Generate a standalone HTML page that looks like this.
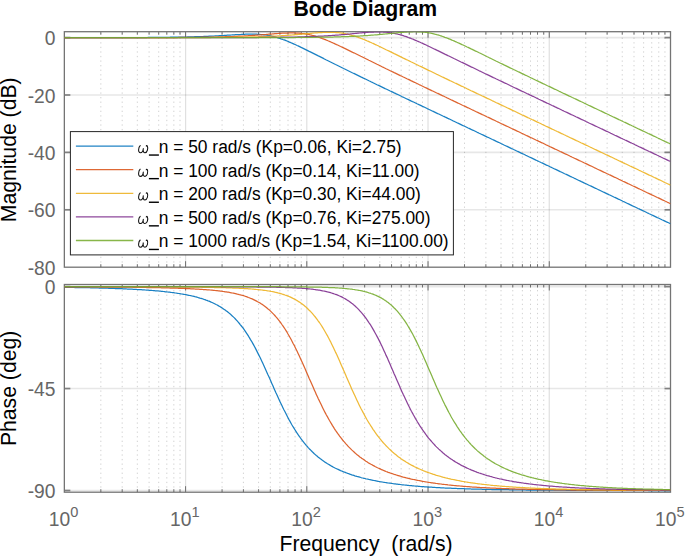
<!DOCTYPE html>
<html><head><meta charset="utf-8"><title>Bode Diagram</title>
<style>
html,body{margin:0;padding:0;background:#fff;}
body{width:685px;height:556px;position:relative;overflow:hidden;font-family:"Liberation Sans",sans-serif;}
svg text{font-family:"Liberation Sans",sans-serif;}
</style></head><body>
<svg width="685" height="556" viewBox="0 0 685 556" style="position:absolute;left:0;top:0">
<rect x="0" y="0" width="685" height="556" fill="#ffffff"/>
<line x1="100.84" y1="267.2" x2="100.84" y2="31.7" stroke="rgba(38,38,38,0.21)" stroke-width="1" stroke-dasharray="1.3 3.265"/>
<line x1="122.19" y1="267.2" x2="122.19" y2="31.7" stroke="rgba(38,38,38,0.21)" stroke-width="1" stroke-dasharray="1.3 3.265"/>
<line x1="137.34" y1="267.2" x2="137.34" y2="31.7" stroke="rgba(38,38,38,0.21)" stroke-width="1" stroke-dasharray="1.3 3.265"/>
<line x1="149.09" y1="267.2" x2="149.09" y2="31.7" stroke="rgba(38,38,38,0.21)" stroke-width="1" stroke-dasharray="1.3 3.265"/>
<line x1="158.69" y1="267.2" x2="158.69" y2="31.7" stroke="rgba(38,38,38,0.21)" stroke-width="1" stroke-dasharray="1.3 3.265"/>
<line x1="166.80" y1="267.2" x2="166.80" y2="31.7" stroke="rgba(38,38,38,0.21)" stroke-width="1" stroke-dasharray="1.3 3.265"/>
<line x1="173.83" y1="267.2" x2="173.83" y2="31.7" stroke="rgba(38,38,38,0.21)" stroke-width="1" stroke-dasharray="1.3 3.265"/>
<line x1="180.03" y1="267.2" x2="180.03" y2="31.7" stroke="rgba(38,38,38,0.21)" stroke-width="1" stroke-dasharray="1.3 3.265"/>
<line x1="222.07" y1="267.2" x2="222.07" y2="31.7" stroke="rgba(38,38,38,0.21)" stroke-width="1" stroke-dasharray="1.3 3.265"/>
<line x1="243.42" y1="267.2" x2="243.42" y2="31.7" stroke="rgba(38,38,38,0.21)" stroke-width="1" stroke-dasharray="1.3 3.265"/>
<line x1="258.57" y1="267.2" x2="258.57" y2="31.7" stroke="rgba(38,38,38,0.21)" stroke-width="1" stroke-dasharray="1.3 3.265"/>
<line x1="270.32" y1="267.2" x2="270.32" y2="31.7" stroke="rgba(38,38,38,0.21)" stroke-width="1" stroke-dasharray="1.3 3.265"/>
<line x1="279.92" y1="267.2" x2="279.92" y2="31.7" stroke="rgba(38,38,38,0.21)" stroke-width="1" stroke-dasharray="1.3 3.265"/>
<line x1="288.03" y1="267.2" x2="288.03" y2="31.7" stroke="rgba(38,38,38,0.21)" stroke-width="1" stroke-dasharray="1.3 3.265"/>
<line x1="295.06" y1="267.2" x2="295.06" y2="31.7" stroke="rgba(38,38,38,0.21)" stroke-width="1" stroke-dasharray="1.3 3.265"/>
<line x1="301.26" y1="267.2" x2="301.26" y2="31.7" stroke="rgba(38,38,38,0.21)" stroke-width="1" stroke-dasharray="1.3 3.265"/>
<line x1="343.30" y1="267.2" x2="343.30" y2="31.7" stroke="rgba(38,38,38,0.21)" stroke-width="1" stroke-dasharray="1.3 3.265"/>
<line x1="364.65" y1="267.2" x2="364.65" y2="31.7" stroke="rgba(38,38,38,0.21)" stroke-width="1" stroke-dasharray="1.3 3.265"/>
<line x1="379.80" y1="267.2" x2="379.80" y2="31.7" stroke="rgba(38,38,38,0.21)" stroke-width="1" stroke-dasharray="1.3 3.265"/>
<line x1="391.55" y1="267.2" x2="391.55" y2="31.7" stroke="rgba(38,38,38,0.21)" stroke-width="1" stroke-dasharray="1.3 3.265"/>
<line x1="401.15" y1="267.2" x2="401.15" y2="31.7" stroke="rgba(38,38,38,0.21)" stroke-width="1" stroke-dasharray="1.3 3.265"/>
<line x1="409.26" y1="267.2" x2="409.26" y2="31.7" stroke="rgba(38,38,38,0.21)" stroke-width="1" stroke-dasharray="1.3 3.265"/>
<line x1="416.29" y1="267.2" x2="416.29" y2="31.7" stroke="rgba(38,38,38,0.21)" stroke-width="1" stroke-dasharray="1.3 3.265"/>
<line x1="422.49" y1="267.2" x2="422.49" y2="31.7" stroke="rgba(38,38,38,0.21)" stroke-width="1" stroke-dasharray="1.3 3.265"/>
<line x1="464.53" y1="267.2" x2="464.53" y2="31.7" stroke="rgba(38,38,38,0.21)" stroke-width="1" stroke-dasharray="1.3 3.265"/>
<line x1="485.88" y1="267.2" x2="485.88" y2="31.7" stroke="rgba(38,38,38,0.21)" stroke-width="1" stroke-dasharray="1.3 3.265"/>
<line x1="501.03" y1="267.2" x2="501.03" y2="31.7" stroke="rgba(38,38,38,0.21)" stroke-width="1" stroke-dasharray="1.3 3.265"/>
<line x1="512.78" y1="267.2" x2="512.78" y2="31.7" stroke="rgba(38,38,38,0.21)" stroke-width="1" stroke-dasharray="1.3 3.265"/>
<line x1="522.38" y1="267.2" x2="522.38" y2="31.7" stroke="rgba(38,38,38,0.21)" stroke-width="1" stroke-dasharray="1.3 3.265"/>
<line x1="530.49" y1="267.2" x2="530.49" y2="31.7" stroke="rgba(38,38,38,0.21)" stroke-width="1" stroke-dasharray="1.3 3.265"/>
<line x1="537.52" y1="267.2" x2="537.52" y2="31.7" stroke="rgba(38,38,38,0.21)" stroke-width="1" stroke-dasharray="1.3 3.265"/>
<line x1="543.72" y1="267.2" x2="543.72" y2="31.7" stroke="rgba(38,38,38,0.21)" stroke-width="1" stroke-dasharray="1.3 3.265"/>
<line x1="585.76" y1="267.2" x2="585.76" y2="31.7" stroke="rgba(38,38,38,0.21)" stroke-width="1" stroke-dasharray="1.3 3.265"/>
<line x1="607.11" y1="267.2" x2="607.11" y2="31.7" stroke="rgba(38,38,38,0.21)" stroke-width="1" stroke-dasharray="1.3 3.265"/>
<line x1="622.26" y1="267.2" x2="622.26" y2="31.7" stroke="rgba(38,38,38,0.21)" stroke-width="1" stroke-dasharray="1.3 3.265"/>
<line x1="634.01" y1="267.2" x2="634.01" y2="31.7" stroke="rgba(38,38,38,0.21)" stroke-width="1" stroke-dasharray="1.3 3.265"/>
<line x1="643.61" y1="267.2" x2="643.61" y2="31.7" stroke="rgba(38,38,38,0.21)" stroke-width="1" stroke-dasharray="1.3 3.265"/>
<line x1="651.72" y1="267.2" x2="651.72" y2="31.7" stroke="rgba(38,38,38,0.21)" stroke-width="1" stroke-dasharray="1.3 3.265"/>
<line x1="658.75" y1="267.2" x2="658.75" y2="31.7" stroke="rgba(38,38,38,0.21)" stroke-width="1" stroke-dasharray="1.3 3.265"/>
<line x1="664.95" y1="267.2" x2="664.95" y2="31.7" stroke="rgba(38,38,38,0.21)" stroke-width="1" stroke-dasharray="1.3 3.265"/>
<line x1="185.58" y1="31.7" x2="185.58" y2="267.2" stroke="rgba(38,38,38,0.14)" stroke-width="1.2"/>
<line x1="306.81" y1="31.7" x2="306.81" y2="267.2" stroke="rgba(38,38,38,0.14)" stroke-width="1.2"/>
<line x1="428.04" y1="31.7" x2="428.04" y2="267.2" stroke="rgba(38,38,38,0.14)" stroke-width="1.2"/>
<line x1="549.27" y1="31.7" x2="549.27" y2="267.2" stroke="rgba(38,38,38,0.14)" stroke-width="1.2"/>
<line x1="64.35" y1="37.60" x2="670.5" y2="37.60" stroke="rgba(38,38,38,0.11)" stroke-width="1.6"/>
<line x1="64.35" y1="95.00" x2="670.5" y2="95.00" stroke="rgba(38,38,38,0.11)" stroke-width="1.6"/>
<line x1="64.35" y1="152.40" x2="670.5" y2="152.40" stroke="rgba(38,38,38,0.11)" stroke-width="1.6"/>
<line x1="64.35" y1="209.80" x2="670.5" y2="209.80" stroke="rgba(38,38,38,0.11)" stroke-width="1.6"/>
<line x1="100.84" y1="492.2" x2="100.84" y2="284.5" stroke="rgba(38,38,38,0.21)" stroke-width="1" stroke-dasharray="1.3 3.265"/>
<line x1="122.19" y1="492.2" x2="122.19" y2="284.5" stroke="rgba(38,38,38,0.21)" stroke-width="1" stroke-dasharray="1.3 3.265"/>
<line x1="137.34" y1="492.2" x2="137.34" y2="284.5" stroke="rgba(38,38,38,0.21)" stroke-width="1" stroke-dasharray="1.3 3.265"/>
<line x1="149.09" y1="492.2" x2="149.09" y2="284.5" stroke="rgba(38,38,38,0.21)" stroke-width="1" stroke-dasharray="1.3 3.265"/>
<line x1="158.69" y1="492.2" x2="158.69" y2="284.5" stroke="rgba(38,38,38,0.21)" stroke-width="1" stroke-dasharray="1.3 3.265"/>
<line x1="166.80" y1="492.2" x2="166.80" y2="284.5" stroke="rgba(38,38,38,0.21)" stroke-width="1" stroke-dasharray="1.3 3.265"/>
<line x1="173.83" y1="492.2" x2="173.83" y2="284.5" stroke="rgba(38,38,38,0.21)" stroke-width="1" stroke-dasharray="1.3 3.265"/>
<line x1="180.03" y1="492.2" x2="180.03" y2="284.5" stroke="rgba(38,38,38,0.21)" stroke-width="1" stroke-dasharray="1.3 3.265"/>
<line x1="222.07" y1="492.2" x2="222.07" y2="284.5" stroke="rgba(38,38,38,0.21)" stroke-width="1" stroke-dasharray="1.3 3.265"/>
<line x1="243.42" y1="492.2" x2="243.42" y2="284.5" stroke="rgba(38,38,38,0.21)" stroke-width="1" stroke-dasharray="1.3 3.265"/>
<line x1="258.57" y1="492.2" x2="258.57" y2="284.5" stroke="rgba(38,38,38,0.21)" stroke-width="1" stroke-dasharray="1.3 3.265"/>
<line x1="270.32" y1="492.2" x2="270.32" y2="284.5" stroke="rgba(38,38,38,0.21)" stroke-width="1" stroke-dasharray="1.3 3.265"/>
<line x1="279.92" y1="492.2" x2="279.92" y2="284.5" stroke="rgba(38,38,38,0.21)" stroke-width="1" stroke-dasharray="1.3 3.265"/>
<line x1="288.03" y1="492.2" x2="288.03" y2="284.5" stroke="rgba(38,38,38,0.21)" stroke-width="1" stroke-dasharray="1.3 3.265"/>
<line x1="295.06" y1="492.2" x2="295.06" y2="284.5" stroke="rgba(38,38,38,0.21)" stroke-width="1" stroke-dasharray="1.3 3.265"/>
<line x1="301.26" y1="492.2" x2="301.26" y2="284.5" stroke="rgba(38,38,38,0.21)" stroke-width="1" stroke-dasharray="1.3 3.265"/>
<line x1="343.30" y1="492.2" x2="343.30" y2="284.5" stroke="rgba(38,38,38,0.21)" stroke-width="1" stroke-dasharray="1.3 3.265"/>
<line x1="364.65" y1="492.2" x2="364.65" y2="284.5" stroke="rgba(38,38,38,0.21)" stroke-width="1" stroke-dasharray="1.3 3.265"/>
<line x1="379.80" y1="492.2" x2="379.80" y2="284.5" stroke="rgba(38,38,38,0.21)" stroke-width="1" stroke-dasharray="1.3 3.265"/>
<line x1="391.55" y1="492.2" x2="391.55" y2="284.5" stroke="rgba(38,38,38,0.21)" stroke-width="1" stroke-dasharray="1.3 3.265"/>
<line x1="401.15" y1="492.2" x2="401.15" y2="284.5" stroke="rgba(38,38,38,0.21)" stroke-width="1" stroke-dasharray="1.3 3.265"/>
<line x1="409.26" y1="492.2" x2="409.26" y2="284.5" stroke="rgba(38,38,38,0.21)" stroke-width="1" stroke-dasharray="1.3 3.265"/>
<line x1="416.29" y1="492.2" x2="416.29" y2="284.5" stroke="rgba(38,38,38,0.21)" stroke-width="1" stroke-dasharray="1.3 3.265"/>
<line x1="422.49" y1="492.2" x2="422.49" y2="284.5" stroke="rgba(38,38,38,0.21)" stroke-width="1" stroke-dasharray="1.3 3.265"/>
<line x1="464.53" y1="492.2" x2="464.53" y2="284.5" stroke="rgba(38,38,38,0.21)" stroke-width="1" stroke-dasharray="1.3 3.265"/>
<line x1="485.88" y1="492.2" x2="485.88" y2="284.5" stroke="rgba(38,38,38,0.21)" stroke-width="1" stroke-dasharray="1.3 3.265"/>
<line x1="501.03" y1="492.2" x2="501.03" y2="284.5" stroke="rgba(38,38,38,0.21)" stroke-width="1" stroke-dasharray="1.3 3.265"/>
<line x1="512.78" y1="492.2" x2="512.78" y2="284.5" stroke="rgba(38,38,38,0.21)" stroke-width="1" stroke-dasharray="1.3 3.265"/>
<line x1="522.38" y1="492.2" x2="522.38" y2="284.5" stroke="rgba(38,38,38,0.21)" stroke-width="1" stroke-dasharray="1.3 3.265"/>
<line x1="530.49" y1="492.2" x2="530.49" y2="284.5" stroke="rgba(38,38,38,0.21)" stroke-width="1" stroke-dasharray="1.3 3.265"/>
<line x1="537.52" y1="492.2" x2="537.52" y2="284.5" stroke="rgba(38,38,38,0.21)" stroke-width="1" stroke-dasharray="1.3 3.265"/>
<line x1="543.72" y1="492.2" x2="543.72" y2="284.5" stroke="rgba(38,38,38,0.21)" stroke-width="1" stroke-dasharray="1.3 3.265"/>
<line x1="585.76" y1="492.2" x2="585.76" y2="284.5" stroke="rgba(38,38,38,0.21)" stroke-width="1" stroke-dasharray="1.3 3.265"/>
<line x1="607.11" y1="492.2" x2="607.11" y2="284.5" stroke="rgba(38,38,38,0.21)" stroke-width="1" stroke-dasharray="1.3 3.265"/>
<line x1="622.26" y1="492.2" x2="622.26" y2="284.5" stroke="rgba(38,38,38,0.21)" stroke-width="1" stroke-dasharray="1.3 3.265"/>
<line x1="634.01" y1="492.2" x2="634.01" y2="284.5" stroke="rgba(38,38,38,0.21)" stroke-width="1" stroke-dasharray="1.3 3.265"/>
<line x1="643.61" y1="492.2" x2="643.61" y2="284.5" stroke="rgba(38,38,38,0.21)" stroke-width="1" stroke-dasharray="1.3 3.265"/>
<line x1="651.72" y1="492.2" x2="651.72" y2="284.5" stroke="rgba(38,38,38,0.21)" stroke-width="1" stroke-dasharray="1.3 3.265"/>
<line x1="658.75" y1="492.2" x2="658.75" y2="284.5" stroke="rgba(38,38,38,0.21)" stroke-width="1" stroke-dasharray="1.3 3.265"/>
<line x1="664.95" y1="492.2" x2="664.95" y2="284.5" stroke="rgba(38,38,38,0.21)" stroke-width="1" stroke-dasharray="1.3 3.265"/>
<line x1="185.58" y1="284.5" x2="185.58" y2="492.2" stroke="rgba(38,38,38,0.14)" stroke-width="1.2"/>
<line x1="306.81" y1="284.5" x2="306.81" y2="492.2" stroke="rgba(38,38,38,0.14)" stroke-width="1.2"/>
<line x1="428.04" y1="284.5" x2="428.04" y2="492.2" stroke="rgba(38,38,38,0.14)" stroke-width="1.2"/>
<line x1="549.27" y1="284.5" x2="549.27" y2="492.2" stroke="rgba(38,38,38,0.14)" stroke-width="1.2"/>
<line x1="64.35" y1="286.60" x2="670.5" y2="286.60" stroke="rgba(38,38,38,0.11)" stroke-width="1.6"/>
<line x1="64.35" y1="388.55" x2="670.5" y2="388.55" stroke="rgba(38,38,38,0.11)" stroke-width="1.6"/>
<line x1="64.35" y1="490.50" x2="670.5" y2="490.50" stroke="rgba(38,38,38,0.11)" stroke-width="1.6"/>
<defs><clipPath id="c1"><rect x="64.35" y="31.7" width="606.15" height="235.5"/></clipPath><clipPath id="c2"><rect x="64.35" y="284.5" width="606.15" height="207.7"/></clipPath></defs>
<line x1="100.84" y1="31.7" x2="100.84" y2="34.7" stroke="#6e6e6e" stroke-width="1"/>
<line x1="100.84" y1="267.2" x2="100.84" y2="264.2" stroke="#6e6e6e" stroke-width="1"/>
<line x1="122.19" y1="31.7" x2="122.19" y2="34.7" stroke="#6e6e6e" stroke-width="1"/>
<line x1="122.19" y1="267.2" x2="122.19" y2="264.2" stroke="#6e6e6e" stroke-width="1"/>
<line x1="137.34" y1="31.7" x2="137.34" y2="34.7" stroke="#6e6e6e" stroke-width="1"/>
<line x1="137.34" y1="267.2" x2="137.34" y2="264.2" stroke="#6e6e6e" stroke-width="1"/>
<line x1="149.09" y1="31.7" x2="149.09" y2="34.7" stroke="#6e6e6e" stroke-width="1"/>
<line x1="149.09" y1="267.2" x2="149.09" y2="264.2" stroke="#6e6e6e" stroke-width="1"/>
<line x1="158.69" y1="31.7" x2="158.69" y2="34.7" stroke="#6e6e6e" stroke-width="1"/>
<line x1="158.69" y1="267.2" x2="158.69" y2="264.2" stroke="#6e6e6e" stroke-width="1"/>
<line x1="166.80" y1="31.7" x2="166.80" y2="34.7" stroke="#6e6e6e" stroke-width="1"/>
<line x1="166.80" y1="267.2" x2="166.80" y2="264.2" stroke="#6e6e6e" stroke-width="1"/>
<line x1="173.83" y1="31.7" x2="173.83" y2="34.7" stroke="#6e6e6e" stroke-width="1"/>
<line x1="173.83" y1="267.2" x2="173.83" y2="264.2" stroke="#6e6e6e" stroke-width="1"/>
<line x1="180.03" y1="31.7" x2="180.03" y2="34.7" stroke="#6e6e6e" stroke-width="1"/>
<line x1="180.03" y1="267.2" x2="180.03" y2="264.2" stroke="#6e6e6e" stroke-width="1"/>
<line x1="185.58" y1="31.7" x2="185.58" y2="37.7" stroke="#6e6e6e" stroke-width="1"/>
<line x1="185.58" y1="267.2" x2="185.58" y2="261.2" stroke="#6e6e6e" stroke-width="1"/>
<line x1="222.07" y1="31.7" x2="222.07" y2="34.7" stroke="#6e6e6e" stroke-width="1"/>
<line x1="222.07" y1="267.2" x2="222.07" y2="264.2" stroke="#6e6e6e" stroke-width="1"/>
<line x1="243.42" y1="31.7" x2="243.42" y2="34.7" stroke="#6e6e6e" stroke-width="1"/>
<line x1="243.42" y1="267.2" x2="243.42" y2="264.2" stroke="#6e6e6e" stroke-width="1"/>
<line x1="258.57" y1="31.7" x2="258.57" y2="34.7" stroke="#6e6e6e" stroke-width="1"/>
<line x1="258.57" y1="267.2" x2="258.57" y2="264.2" stroke="#6e6e6e" stroke-width="1"/>
<line x1="270.32" y1="31.7" x2="270.32" y2="34.7" stroke="#6e6e6e" stroke-width="1"/>
<line x1="270.32" y1="267.2" x2="270.32" y2="264.2" stroke="#6e6e6e" stroke-width="1"/>
<line x1="279.92" y1="31.7" x2="279.92" y2="34.7" stroke="#6e6e6e" stroke-width="1"/>
<line x1="279.92" y1="267.2" x2="279.92" y2="264.2" stroke="#6e6e6e" stroke-width="1"/>
<line x1="288.03" y1="31.7" x2="288.03" y2="34.7" stroke="#6e6e6e" stroke-width="1"/>
<line x1="288.03" y1="267.2" x2="288.03" y2="264.2" stroke="#6e6e6e" stroke-width="1"/>
<line x1="295.06" y1="31.7" x2="295.06" y2="34.7" stroke="#6e6e6e" stroke-width="1"/>
<line x1="295.06" y1="267.2" x2="295.06" y2="264.2" stroke="#6e6e6e" stroke-width="1"/>
<line x1="301.26" y1="31.7" x2="301.26" y2="34.7" stroke="#6e6e6e" stroke-width="1"/>
<line x1="301.26" y1="267.2" x2="301.26" y2="264.2" stroke="#6e6e6e" stroke-width="1"/>
<line x1="306.81" y1="31.7" x2="306.81" y2="37.7" stroke="#6e6e6e" stroke-width="1"/>
<line x1="306.81" y1="267.2" x2="306.81" y2="261.2" stroke="#6e6e6e" stroke-width="1"/>
<line x1="343.30" y1="31.7" x2="343.30" y2="34.7" stroke="#6e6e6e" stroke-width="1"/>
<line x1="343.30" y1="267.2" x2="343.30" y2="264.2" stroke="#6e6e6e" stroke-width="1"/>
<line x1="364.65" y1="31.7" x2="364.65" y2="34.7" stroke="#6e6e6e" stroke-width="1"/>
<line x1="364.65" y1="267.2" x2="364.65" y2="264.2" stroke="#6e6e6e" stroke-width="1"/>
<line x1="379.80" y1="31.7" x2="379.80" y2="34.7" stroke="#6e6e6e" stroke-width="1"/>
<line x1="379.80" y1="267.2" x2="379.80" y2="264.2" stroke="#6e6e6e" stroke-width="1"/>
<line x1="391.55" y1="31.7" x2="391.55" y2="34.7" stroke="#6e6e6e" stroke-width="1"/>
<line x1="391.55" y1="267.2" x2="391.55" y2="264.2" stroke="#6e6e6e" stroke-width="1"/>
<line x1="401.15" y1="31.7" x2="401.15" y2="34.7" stroke="#6e6e6e" stroke-width="1"/>
<line x1="401.15" y1="267.2" x2="401.15" y2="264.2" stroke="#6e6e6e" stroke-width="1"/>
<line x1="409.26" y1="31.7" x2="409.26" y2="34.7" stroke="#6e6e6e" stroke-width="1"/>
<line x1="409.26" y1="267.2" x2="409.26" y2="264.2" stroke="#6e6e6e" stroke-width="1"/>
<line x1="416.29" y1="31.7" x2="416.29" y2="34.7" stroke="#6e6e6e" stroke-width="1"/>
<line x1="416.29" y1="267.2" x2="416.29" y2="264.2" stroke="#6e6e6e" stroke-width="1"/>
<line x1="422.49" y1="31.7" x2="422.49" y2="34.7" stroke="#6e6e6e" stroke-width="1"/>
<line x1="422.49" y1="267.2" x2="422.49" y2="264.2" stroke="#6e6e6e" stroke-width="1"/>
<line x1="428.04" y1="31.7" x2="428.04" y2="37.7" stroke="#6e6e6e" stroke-width="1"/>
<line x1="428.04" y1="267.2" x2="428.04" y2="261.2" stroke="#6e6e6e" stroke-width="1"/>
<line x1="464.53" y1="31.7" x2="464.53" y2="34.7" stroke="#6e6e6e" stroke-width="1"/>
<line x1="464.53" y1="267.2" x2="464.53" y2="264.2" stroke="#6e6e6e" stroke-width="1"/>
<line x1="485.88" y1="31.7" x2="485.88" y2="34.7" stroke="#6e6e6e" stroke-width="1"/>
<line x1="485.88" y1="267.2" x2="485.88" y2="264.2" stroke="#6e6e6e" stroke-width="1"/>
<line x1="501.03" y1="31.7" x2="501.03" y2="34.7" stroke="#6e6e6e" stroke-width="1"/>
<line x1="501.03" y1="267.2" x2="501.03" y2="264.2" stroke="#6e6e6e" stroke-width="1"/>
<line x1="512.78" y1="31.7" x2="512.78" y2="34.7" stroke="#6e6e6e" stroke-width="1"/>
<line x1="512.78" y1="267.2" x2="512.78" y2="264.2" stroke="#6e6e6e" stroke-width="1"/>
<line x1="522.38" y1="31.7" x2="522.38" y2="34.7" stroke="#6e6e6e" stroke-width="1"/>
<line x1="522.38" y1="267.2" x2="522.38" y2="264.2" stroke="#6e6e6e" stroke-width="1"/>
<line x1="530.49" y1="31.7" x2="530.49" y2="34.7" stroke="#6e6e6e" stroke-width="1"/>
<line x1="530.49" y1="267.2" x2="530.49" y2="264.2" stroke="#6e6e6e" stroke-width="1"/>
<line x1="537.52" y1="31.7" x2="537.52" y2="34.7" stroke="#6e6e6e" stroke-width="1"/>
<line x1="537.52" y1="267.2" x2="537.52" y2="264.2" stroke="#6e6e6e" stroke-width="1"/>
<line x1="543.72" y1="31.7" x2="543.72" y2="34.7" stroke="#6e6e6e" stroke-width="1"/>
<line x1="543.72" y1="267.2" x2="543.72" y2="264.2" stroke="#6e6e6e" stroke-width="1"/>
<line x1="549.27" y1="31.7" x2="549.27" y2="37.7" stroke="#6e6e6e" stroke-width="1"/>
<line x1="549.27" y1="267.2" x2="549.27" y2="261.2" stroke="#6e6e6e" stroke-width="1"/>
<line x1="585.76" y1="31.7" x2="585.76" y2="34.7" stroke="#6e6e6e" stroke-width="1"/>
<line x1="585.76" y1="267.2" x2="585.76" y2="264.2" stroke="#6e6e6e" stroke-width="1"/>
<line x1="607.11" y1="31.7" x2="607.11" y2="34.7" stroke="#6e6e6e" stroke-width="1"/>
<line x1="607.11" y1="267.2" x2="607.11" y2="264.2" stroke="#6e6e6e" stroke-width="1"/>
<line x1="622.26" y1="31.7" x2="622.26" y2="34.7" stroke="#6e6e6e" stroke-width="1"/>
<line x1="622.26" y1="267.2" x2="622.26" y2="264.2" stroke="#6e6e6e" stroke-width="1"/>
<line x1="634.01" y1="31.7" x2="634.01" y2="34.7" stroke="#6e6e6e" stroke-width="1"/>
<line x1="634.01" y1="267.2" x2="634.01" y2="264.2" stroke="#6e6e6e" stroke-width="1"/>
<line x1="643.61" y1="31.7" x2="643.61" y2="34.7" stroke="#6e6e6e" stroke-width="1"/>
<line x1="643.61" y1="267.2" x2="643.61" y2="264.2" stroke="#6e6e6e" stroke-width="1"/>
<line x1="651.72" y1="31.7" x2="651.72" y2="34.7" stroke="#6e6e6e" stroke-width="1"/>
<line x1="651.72" y1="267.2" x2="651.72" y2="264.2" stroke="#6e6e6e" stroke-width="1"/>
<line x1="658.75" y1="31.7" x2="658.75" y2="34.7" stroke="#6e6e6e" stroke-width="1"/>
<line x1="658.75" y1="267.2" x2="658.75" y2="264.2" stroke="#6e6e6e" stroke-width="1"/>
<line x1="664.95" y1="31.7" x2="664.95" y2="34.7" stroke="#6e6e6e" stroke-width="1"/>
<line x1="664.95" y1="267.2" x2="664.95" y2="264.2" stroke="#6e6e6e" stroke-width="1"/>
<line x1="64.35" y1="37.60" x2="70.35" y2="37.60" stroke="#808080" stroke-width="1.7"/>
<line x1="670.5" y1="37.60" x2="664.5" y2="37.60" stroke="#808080" stroke-width="1.7"/>
<line x1="64.35" y1="95.00" x2="70.35" y2="95.00" stroke="#808080" stroke-width="1.7"/>
<line x1="670.5" y1="95.00" x2="664.5" y2="95.00" stroke="#808080" stroke-width="1.7"/>
<line x1="64.35" y1="152.40" x2="70.35" y2="152.40" stroke="#808080" stroke-width="1.7"/>
<line x1="670.5" y1="152.40" x2="664.5" y2="152.40" stroke="#808080" stroke-width="1.7"/>
<line x1="64.35" y1="209.80" x2="70.35" y2="209.80" stroke="#808080" stroke-width="1.7"/>
<line x1="670.5" y1="209.80" x2="664.5" y2="209.80" stroke="#808080" stroke-width="1.7"/>
<rect x="64.35" y="31.7" width="606.15" height="235.5" fill="none" stroke="#747474" stroke-width="1.3"/>
<line x1="100.84" y1="284.5" x2="100.84" y2="287.5" stroke="#6e6e6e" stroke-width="1"/>
<line x1="100.84" y1="492.2" x2="100.84" y2="489.2" stroke="#6e6e6e" stroke-width="1"/>
<line x1="122.19" y1="284.5" x2="122.19" y2="287.5" stroke="#6e6e6e" stroke-width="1"/>
<line x1="122.19" y1="492.2" x2="122.19" y2="489.2" stroke="#6e6e6e" stroke-width="1"/>
<line x1="137.34" y1="284.5" x2="137.34" y2="287.5" stroke="#6e6e6e" stroke-width="1"/>
<line x1="137.34" y1="492.2" x2="137.34" y2="489.2" stroke="#6e6e6e" stroke-width="1"/>
<line x1="149.09" y1="284.5" x2="149.09" y2="287.5" stroke="#6e6e6e" stroke-width="1"/>
<line x1="149.09" y1="492.2" x2="149.09" y2="489.2" stroke="#6e6e6e" stroke-width="1"/>
<line x1="158.69" y1="284.5" x2="158.69" y2="287.5" stroke="#6e6e6e" stroke-width="1"/>
<line x1="158.69" y1="492.2" x2="158.69" y2="489.2" stroke="#6e6e6e" stroke-width="1"/>
<line x1="166.80" y1="284.5" x2="166.80" y2="287.5" stroke="#6e6e6e" stroke-width="1"/>
<line x1="166.80" y1="492.2" x2="166.80" y2="489.2" stroke="#6e6e6e" stroke-width="1"/>
<line x1="173.83" y1="284.5" x2="173.83" y2="287.5" stroke="#6e6e6e" stroke-width="1"/>
<line x1="173.83" y1="492.2" x2="173.83" y2="489.2" stroke="#6e6e6e" stroke-width="1"/>
<line x1="180.03" y1="284.5" x2="180.03" y2="287.5" stroke="#6e6e6e" stroke-width="1"/>
<line x1="180.03" y1="492.2" x2="180.03" y2="489.2" stroke="#6e6e6e" stroke-width="1"/>
<line x1="185.58" y1="284.5" x2="185.58" y2="290.5" stroke="#6e6e6e" stroke-width="1"/>
<line x1="185.58" y1="492.2" x2="185.58" y2="486.2" stroke="#6e6e6e" stroke-width="1"/>
<line x1="222.07" y1="284.5" x2="222.07" y2="287.5" stroke="#6e6e6e" stroke-width="1"/>
<line x1="222.07" y1="492.2" x2="222.07" y2="489.2" stroke="#6e6e6e" stroke-width="1"/>
<line x1="243.42" y1="284.5" x2="243.42" y2="287.5" stroke="#6e6e6e" stroke-width="1"/>
<line x1="243.42" y1="492.2" x2="243.42" y2="489.2" stroke="#6e6e6e" stroke-width="1"/>
<line x1="258.57" y1="284.5" x2="258.57" y2="287.5" stroke="#6e6e6e" stroke-width="1"/>
<line x1="258.57" y1="492.2" x2="258.57" y2="489.2" stroke="#6e6e6e" stroke-width="1"/>
<line x1="270.32" y1="284.5" x2="270.32" y2="287.5" stroke="#6e6e6e" stroke-width="1"/>
<line x1="270.32" y1="492.2" x2="270.32" y2="489.2" stroke="#6e6e6e" stroke-width="1"/>
<line x1="279.92" y1="284.5" x2="279.92" y2="287.5" stroke="#6e6e6e" stroke-width="1"/>
<line x1="279.92" y1="492.2" x2="279.92" y2="489.2" stroke="#6e6e6e" stroke-width="1"/>
<line x1="288.03" y1="284.5" x2="288.03" y2="287.5" stroke="#6e6e6e" stroke-width="1"/>
<line x1="288.03" y1="492.2" x2="288.03" y2="489.2" stroke="#6e6e6e" stroke-width="1"/>
<line x1="295.06" y1="284.5" x2="295.06" y2="287.5" stroke="#6e6e6e" stroke-width="1"/>
<line x1="295.06" y1="492.2" x2="295.06" y2="489.2" stroke="#6e6e6e" stroke-width="1"/>
<line x1="301.26" y1="284.5" x2="301.26" y2="287.5" stroke="#6e6e6e" stroke-width="1"/>
<line x1="301.26" y1="492.2" x2="301.26" y2="489.2" stroke="#6e6e6e" stroke-width="1"/>
<line x1="306.81" y1="284.5" x2="306.81" y2="290.5" stroke="#6e6e6e" stroke-width="1"/>
<line x1="306.81" y1="492.2" x2="306.81" y2="486.2" stroke="#6e6e6e" stroke-width="1"/>
<line x1="343.30" y1="284.5" x2="343.30" y2="287.5" stroke="#6e6e6e" stroke-width="1"/>
<line x1="343.30" y1="492.2" x2="343.30" y2="489.2" stroke="#6e6e6e" stroke-width="1"/>
<line x1="364.65" y1="284.5" x2="364.65" y2="287.5" stroke="#6e6e6e" stroke-width="1"/>
<line x1="364.65" y1="492.2" x2="364.65" y2="489.2" stroke="#6e6e6e" stroke-width="1"/>
<line x1="379.80" y1="284.5" x2="379.80" y2="287.5" stroke="#6e6e6e" stroke-width="1"/>
<line x1="379.80" y1="492.2" x2="379.80" y2="489.2" stroke="#6e6e6e" stroke-width="1"/>
<line x1="391.55" y1="284.5" x2="391.55" y2="287.5" stroke="#6e6e6e" stroke-width="1"/>
<line x1="391.55" y1="492.2" x2="391.55" y2="489.2" stroke="#6e6e6e" stroke-width="1"/>
<line x1="401.15" y1="284.5" x2="401.15" y2="287.5" stroke="#6e6e6e" stroke-width="1"/>
<line x1="401.15" y1="492.2" x2="401.15" y2="489.2" stroke="#6e6e6e" stroke-width="1"/>
<line x1="409.26" y1="284.5" x2="409.26" y2="287.5" stroke="#6e6e6e" stroke-width="1"/>
<line x1="409.26" y1="492.2" x2="409.26" y2="489.2" stroke="#6e6e6e" stroke-width="1"/>
<line x1="416.29" y1="284.5" x2="416.29" y2="287.5" stroke="#6e6e6e" stroke-width="1"/>
<line x1="416.29" y1="492.2" x2="416.29" y2="489.2" stroke="#6e6e6e" stroke-width="1"/>
<line x1="422.49" y1="284.5" x2="422.49" y2="287.5" stroke="#6e6e6e" stroke-width="1"/>
<line x1="422.49" y1="492.2" x2="422.49" y2="489.2" stroke="#6e6e6e" stroke-width="1"/>
<line x1="428.04" y1="284.5" x2="428.04" y2="290.5" stroke="#6e6e6e" stroke-width="1"/>
<line x1="428.04" y1="492.2" x2="428.04" y2="486.2" stroke="#6e6e6e" stroke-width="1"/>
<line x1="464.53" y1="284.5" x2="464.53" y2="287.5" stroke="#6e6e6e" stroke-width="1"/>
<line x1="464.53" y1="492.2" x2="464.53" y2="489.2" stroke="#6e6e6e" stroke-width="1"/>
<line x1="485.88" y1="284.5" x2="485.88" y2="287.5" stroke="#6e6e6e" stroke-width="1"/>
<line x1="485.88" y1="492.2" x2="485.88" y2="489.2" stroke="#6e6e6e" stroke-width="1"/>
<line x1="501.03" y1="284.5" x2="501.03" y2="287.5" stroke="#6e6e6e" stroke-width="1"/>
<line x1="501.03" y1="492.2" x2="501.03" y2="489.2" stroke="#6e6e6e" stroke-width="1"/>
<line x1="512.78" y1="284.5" x2="512.78" y2="287.5" stroke="#6e6e6e" stroke-width="1"/>
<line x1="512.78" y1="492.2" x2="512.78" y2="489.2" stroke="#6e6e6e" stroke-width="1"/>
<line x1="522.38" y1="284.5" x2="522.38" y2="287.5" stroke="#6e6e6e" stroke-width="1"/>
<line x1="522.38" y1="492.2" x2="522.38" y2="489.2" stroke="#6e6e6e" stroke-width="1"/>
<line x1="530.49" y1="284.5" x2="530.49" y2="287.5" stroke="#6e6e6e" stroke-width="1"/>
<line x1="530.49" y1="492.2" x2="530.49" y2="489.2" stroke="#6e6e6e" stroke-width="1"/>
<line x1="537.52" y1="284.5" x2="537.52" y2="287.5" stroke="#6e6e6e" stroke-width="1"/>
<line x1="537.52" y1="492.2" x2="537.52" y2="489.2" stroke="#6e6e6e" stroke-width="1"/>
<line x1="543.72" y1="284.5" x2="543.72" y2="287.5" stroke="#6e6e6e" stroke-width="1"/>
<line x1="543.72" y1="492.2" x2="543.72" y2="489.2" stroke="#6e6e6e" stroke-width="1"/>
<line x1="549.27" y1="284.5" x2="549.27" y2="290.5" stroke="#6e6e6e" stroke-width="1"/>
<line x1="549.27" y1="492.2" x2="549.27" y2="486.2" stroke="#6e6e6e" stroke-width="1"/>
<line x1="585.76" y1="284.5" x2="585.76" y2="287.5" stroke="#6e6e6e" stroke-width="1"/>
<line x1="585.76" y1="492.2" x2="585.76" y2="489.2" stroke="#6e6e6e" stroke-width="1"/>
<line x1="607.11" y1="284.5" x2="607.11" y2="287.5" stroke="#6e6e6e" stroke-width="1"/>
<line x1="607.11" y1="492.2" x2="607.11" y2="489.2" stroke="#6e6e6e" stroke-width="1"/>
<line x1="622.26" y1="284.5" x2="622.26" y2="287.5" stroke="#6e6e6e" stroke-width="1"/>
<line x1="622.26" y1="492.2" x2="622.26" y2="489.2" stroke="#6e6e6e" stroke-width="1"/>
<line x1="634.01" y1="284.5" x2="634.01" y2="287.5" stroke="#6e6e6e" stroke-width="1"/>
<line x1="634.01" y1="492.2" x2="634.01" y2="489.2" stroke="#6e6e6e" stroke-width="1"/>
<line x1="643.61" y1="284.5" x2="643.61" y2="287.5" stroke="#6e6e6e" stroke-width="1"/>
<line x1="643.61" y1="492.2" x2="643.61" y2="489.2" stroke="#6e6e6e" stroke-width="1"/>
<line x1="651.72" y1="284.5" x2="651.72" y2="287.5" stroke="#6e6e6e" stroke-width="1"/>
<line x1="651.72" y1="492.2" x2="651.72" y2="489.2" stroke="#6e6e6e" stroke-width="1"/>
<line x1="658.75" y1="284.5" x2="658.75" y2="287.5" stroke="#6e6e6e" stroke-width="1"/>
<line x1="658.75" y1="492.2" x2="658.75" y2="489.2" stroke="#6e6e6e" stroke-width="1"/>
<line x1="664.95" y1="284.5" x2="664.95" y2="287.5" stroke="#6e6e6e" stroke-width="1"/>
<line x1="664.95" y1="492.2" x2="664.95" y2="489.2" stroke="#6e6e6e" stroke-width="1"/>
<line x1="64.35" y1="286.60" x2="70.35" y2="286.60" stroke="#808080" stroke-width="1.7"/>
<line x1="670.5" y1="286.60" x2="664.5" y2="286.60" stroke="#808080" stroke-width="1.7"/>
<line x1="64.35" y1="388.55" x2="70.35" y2="388.55" stroke="#808080" stroke-width="1.7"/>
<line x1="670.5" y1="388.55" x2="664.5" y2="388.55" stroke="#808080" stroke-width="1.7"/>
<line x1="64.35" y1="490.50" x2="70.35" y2="490.50" stroke="#808080" stroke-width="1.7"/>
<line x1="670.5" y1="490.50" x2="664.5" y2="490.50" stroke="#808080" stroke-width="1.7"/>
<rect x="64.35" y="284.5" width="606.15" height="207.7" fill="none" stroke="#747474" stroke-width="1.3"/>
<polyline clip-path="url(#c1)" fill="none" stroke="#0072BD" stroke-width="1.25" stroke-opacity="0.9" stroke-linejoin="round" points="64.3,37.6 65.4,37.6 66.4,37.6 67.4,37.6 68.4,37.6 69.4,37.6 70.4,37.6 71.4,37.6 72.4,37.6 73.5,37.6 74.5,37.6 75.5,37.6 76.5,37.6 77.5,37.6 78.5,37.6 79.5,37.6 80.5,37.6 81.6,37.6 82.6,37.6 83.6,37.6 84.6,37.6 85.6,37.6 86.6,37.6 87.6,37.6 88.6,37.6 89.6,37.6 90.7,37.6 91.7,37.6 92.7,37.6 93.7,37.6 94.7,37.6 95.7,37.6 96.7,37.6 97.7,37.6 98.8,37.6 99.8,37.6 100.8,37.6 101.8,37.6 102.8,37.6 103.8,37.6 104.8,37.6 105.8,37.6 106.9,37.6 107.9,37.6 108.9,37.6 109.9,37.6 110.9,37.6 111.9,37.6 112.9,37.6 113.9,37.6 114.9,37.6 116.0,37.6 117.0,37.6 118.0,37.6 119.0,37.5 120.0,37.5 121.0,37.5 122.0,37.5 123.0,37.5 124.1,37.5 125.1,37.5 126.1,37.5 127.1,37.5 128.1,37.5 129.1,37.5 130.1,37.5 131.1,37.5 132.1,37.5 133.2,37.5 134.2,37.5 135.2,37.5 136.2,37.5 137.2,37.5 138.2,37.5 139.2,37.5 140.2,37.5 141.3,37.5 142.3,37.5 143.3,37.5 144.3,37.5 145.3,37.5 146.3,37.5 147.3,37.5 148.3,37.4 149.4,37.4 150.4,37.4 151.4,37.4 152.4,37.4 153.4,37.4 154.4,37.4 155.4,37.4 156.4,37.4 157.4,37.4 158.5,37.4 159.5,37.4 160.5,37.4 161.5,37.3 162.5,37.3 163.5,37.3 164.5,37.3 165.5,37.3 166.6,37.3 167.6,37.3 168.6,37.3 169.6,37.3 170.6,37.2 171.6,37.2 172.6,37.2 173.6,37.2 174.7,37.2 175.7,37.2 176.7,37.2 177.7,37.1 178.7,37.1 179.7,37.1 180.7,37.1 181.7,37.1 182.7,37.0 183.8,37.0 184.8,37.0 185.8,37.0 186.8,37.0 187.8,36.9 188.8,36.9 189.8,36.9 190.8,36.9 191.9,36.8 192.9,36.8 193.9,36.8 194.9,36.7 195.9,36.7 196.9,36.7 197.9,36.7 198.9,36.6 199.9,36.6 201.0,36.5 202.0,36.5 203.0,36.5 204.0,36.4 205.0,36.4 206.0,36.4 207.0,36.3 208.0,36.3 209.1,36.2 210.1,36.2 211.1,36.1 212.1,36.1 213.1,36.0 214.1,36.0 215.1,35.9 216.1,35.9 217.2,35.8 218.2,35.8 219.2,35.7 220.2,35.7 221.2,35.6 222.2,35.5 223.2,35.5 224.2,35.4 225.2,35.4 226.3,35.3 227.3,35.2 228.3,35.2 229.3,35.1 230.3,35.1 231.3,35.0 232.3,34.9 233.3,34.9 234.4,34.8 235.4,34.7 236.4,34.7 237.4,34.6 238.4,34.6 239.4,34.5 240.4,34.5 241.4,34.4 242.5,34.4 243.5,34.3 244.5,34.3 245.5,34.2 246.5,34.2 247.5,34.2 248.5,34.2 249.5,34.1 250.5,34.1 251.6,34.1 252.6,34.1 253.6,34.1 254.6,34.2 255.6,34.2 256.6,34.2 257.6,34.3 258.6,34.3 259.7,34.4 260.7,34.5 261.7,34.6 262.7,34.7 263.7,34.8 264.7,34.9 265.7,35.0 266.7,35.2 267.7,35.4 268.8,35.5 269.8,35.7 270.8,35.9 271.8,36.2 272.8,36.4 273.8,36.6 274.8,36.9 275.8,37.2 276.9,37.5 277.9,37.8 278.9,38.1 279.9,38.4 280.9,38.8 281.9,39.1 282.9,39.5 283.9,39.8 285.0,40.2 286.0,40.6 287.0,41.0 288.0,41.4 289.0,41.9 290.0,42.3 291.0,42.7 292.0,43.2 293.0,43.6 294.1,44.1 295.1,44.5 296.1,45.0 297.1,45.5 298.1,45.9 299.1,46.4 300.1,46.9 301.1,47.4 302.2,47.9 303.2,48.4 304.2,48.9 305.2,49.4 306.2,49.9 307.2,50.4 308.2,50.9 309.2,51.4 310.3,51.9 311.3,52.4 312.3,52.9 313.3,53.4 314.3,53.9 315.3,54.4 316.3,54.9 317.3,55.4 318.3,55.9 319.4,56.4 320.4,56.9 321.4,57.4 322.4,57.9 323.4,58.4 324.4,59.0 325.4,59.5 326.4,60.0 327.5,60.5 328.5,61.0 329.5,61.5 330.5,62.0 331.5,62.5 332.5,63.0 333.5,63.5 334.5,64.0 335.5,64.5 336.6,65.0 337.6,65.5 338.6,66.0 339.6,66.5 340.6,67.0 341.6,67.5 342.6,68.0 343.6,68.5 344.7,69.0 345.7,69.5 346.7,70.0 347.7,70.5 348.7,71.0 349.7,71.5 350.7,72.0 351.7,72.5 352.8,73.0 353.8,73.4 354.8,73.9 355.8,74.4 356.8,74.9 357.8,75.4 358.8,75.9 359.8,76.4 360.8,76.9 361.9,77.4 362.9,77.9 363.9,78.3 364.9,78.8 365.9,79.3 366.9,79.8 367.9,80.3 368.9,80.8 370.0,81.3 371.0,81.8 372.0,82.2 373.0,82.7 374.0,83.2 375.0,83.7 376.0,84.2 377.0,84.7 378.1,85.2 379.1,85.6 380.1,86.1 381.1,86.6 382.1,87.1 383.1,87.6 384.1,88.1 385.1,88.6 386.1,89.0 387.2,89.5 388.2,90.0 389.2,90.5 390.2,91.0 391.2,91.4 392.2,91.9 393.2,92.4 394.2,92.9 395.3,93.4 396.3,93.9 397.3,94.3 398.3,94.8 399.3,95.3 400.3,95.8 401.3,96.3 402.3,96.8 403.3,97.2 404.4,97.7 405.4,98.2 406.4,98.7 407.4,99.2 408.4,99.6 409.4,100.1 410.4,100.6 411.4,101.1 412.5,101.6 413.5,102.0 414.5,102.5 415.5,103.0 416.5,103.5 417.5,104.0 418.5,104.4 419.5,104.9 420.6,105.4 421.6,105.9 422.6,106.4 423.6,106.8 424.6,107.3 425.6,107.8 426.6,108.3 427.6,108.8 428.6,109.2 429.7,109.7 430.7,110.2 431.7,110.7 432.7,111.2 433.7,111.6 434.7,112.1 435.7,112.6 436.7,113.1 437.8,113.6 438.8,114.0 439.8,114.5 440.8,115.0 441.8,115.5 442.8,116.0 443.8,116.4 444.8,116.9 445.9,117.4 446.9,117.9 447.9,118.4 448.9,118.8 449.9,119.3 450.9,119.8 451.9,120.3 452.9,120.8 453.9,121.2 455.0,121.7 456.0,122.2 457.0,122.7 458.0,123.2 459.0,123.6 460.0,124.1 461.0,124.6 462.0,125.1 463.1,125.6 464.1,126.0 465.1,126.5 466.1,127.0 467.1,127.5 468.1,128.0 469.1,128.4 470.1,128.9 471.1,129.4 472.2,129.9 473.2,130.3 474.2,130.8 475.2,131.3 476.2,131.8 477.2,132.3 478.2,132.7 479.2,133.2 480.3,133.7 481.3,134.2 482.3,134.7 483.3,135.1 484.3,135.6 485.3,136.1 486.3,136.6 487.3,137.1 488.4,137.5 489.4,138.0 490.4,138.5 491.4,139.0 492.4,139.5 493.4,139.9 494.4,140.4 495.4,140.9 496.4,141.4 497.5,141.9 498.5,142.3 499.5,142.8 500.5,143.3 501.5,143.8 502.5,144.2 503.5,144.7 504.5,145.2 505.6,145.7 506.6,146.2 507.6,146.6 508.6,147.1 509.6,147.6 510.6,148.1 511.6,148.6 512.6,149.0 513.6,149.5 514.7,150.0 515.7,150.5 516.7,151.0 517.7,151.4 518.7,151.9 519.7,152.4 520.7,152.9 521.7,153.4 522.8,153.8 523.8,154.3 524.8,154.8 525.8,155.3 526.8,155.7 527.8,156.2 528.8,156.7 529.8,157.2 530.9,157.7 531.9,158.1 532.9,158.6 533.9,159.1 534.9,159.6 535.9,160.1 536.9,160.5 537.9,161.0 538.9,161.5 540.0,162.0 541.0,162.5 542.0,162.9 543.0,163.4 544.0,163.9 545.0,164.4 546.0,164.9 547.0,165.3 548.1,165.8 549.1,166.3 550.1,166.8 551.1,167.2 552.1,167.7 553.1,168.2 554.1,168.7 555.1,169.2 556.2,169.6 557.2,170.1 558.2,170.6 559.2,171.1 560.2,171.6 561.2,172.0 562.2,172.5 563.2,173.0 564.2,173.5 565.3,174.0 566.3,174.4 567.3,174.9 568.3,175.4 569.3,175.9 570.3,176.4 571.3,176.8 572.3,177.3 573.4,177.8 574.4,178.3 575.4,178.7 576.4,179.2 577.4,179.7 578.4,180.2 579.4,180.7 580.4,181.1 581.4,181.6 582.5,182.1 583.5,182.6 584.5,183.1 585.5,183.5 586.5,184.0 587.5,184.5 588.5,185.0 589.5,185.5 590.6,185.9 591.6,186.4 592.6,186.9 593.6,187.4 594.6,187.9 595.6,188.3 596.6,188.8 597.6,189.3 598.7,189.8 599.7,190.2 600.7,190.7 601.7,191.2 602.7,191.7 603.7,192.2 604.7,192.6 605.7,193.1 606.7,193.6 607.8,194.1 608.8,194.6 609.8,195.0 610.8,195.5 611.8,196.0 612.8,196.5 613.8,197.0 614.8,197.4 615.9,197.9 616.9,198.4 617.9,198.9 618.9,199.3 619.9,199.8 620.9,200.3 621.9,200.8 622.9,201.3 624.0,201.7 625.0,202.2 626.0,202.7 627.0,203.2 628.0,203.7 629.0,204.1 630.0,204.6 631.0,205.1 632.0,205.6 633.1,206.1 634.1,206.5 635.1,207.0 636.1,207.5 637.1,208.0 638.1,208.5 639.1,208.9 640.1,209.4 641.2,209.9 642.2,210.4 643.2,210.8 644.2,211.3 645.2,211.8 646.2,212.3 647.2,212.8 648.2,213.2 649.2,213.7 650.3,214.2 651.3,214.7 652.3,215.2 653.3,215.6 654.3,216.1 655.3,216.6 656.3,217.1 657.3,217.6 658.4,218.0 659.4,218.5 660.4,219.0 661.4,219.5 662.4,220.0 663.4,220.4 664.4,220.9 665.4,221.4 666.5,221.9 667.5,222.3 668.5,222.8 669.5,223.3 670.5,223.8"/>
<polyline clip-path="url(#c1)" fill="none" stroke="#D95319" stroke-width="1.25" stroke-opacity="0.9" stroke-linejoin="round" points="64.3,37.6 65.4,37.6 66.4,37.6 67.4,37.6 68.4,37.6 69.4,37.6 70.4,37.6 71.4,37.6 72.4,37.6 73.5,37.6 74.5,37.6 75.5,37.6 76.5,37.6 77.5,37.6 78.5,37.6 79.5,37.6 80.5,37.6 81.6,37.6 82.6,37.6 83.6,37.6 84.6,37.6 85.6,37.6 86.6,37.6 87.6,37.6 88.6,37.6 89.6,37.6 90.7,37.6 91.7,37.6 92.7,37.6 93.7,37.6 94.7,37.6 95.7,37.6 96.7,37.6 97.7,37.6 98.8,37.6 99.8,37.6 100.8,37.6 101.8,37.6 102.8,37.6 103.8,37.6 104.8,37.6 105.8,37.6 106.9,37.6 107.9,37.6 108.9,37.6 109.9,37.6 110.9,37.6 111.9,37.6 112.9,37.6 113.9,37.6 114.9,37.6 116.0,37.6 117.0,37.6 118.0,37.6 119.0,37.6 120.0,37.6 121.0,37.6 122.0,37.6 123.0,37.6 124.1,37.6 125.1,37.6 126.1,37.6 127.1,37.6 128.1,37.6 129.1,37.6 130.1,37.6 131.1,37.6 132.1,37.6 133.2,37.6 134.2,37.6 135.2,37.6 136.2,37.6 137.2,37.6 138.2,37.6 139.2,37.6 140.2,37.6 141.3,37.6 142.3,37.6 143.3,37.6 144.3,37.6 145.3,37.6 146.3,37.6 147.3,37.6 148.3,37.6 149.4,37.5 150.4,37.5 151.4,37.5 152.4,37.5 153.4,37.5 154.4,37.5 155.4,37.5 156.4,37.5 157.4,37.5 158.5,37.5 159.5,37.5 160.5,37.5 161.5,37.5 162.5,37.5 163.5,37.5 164.5,37.5 165.5,37.5 166.6,37.5 167.6,37.5 168.6,37.5 169.6,37.5 170.6,37.5 171.6,37.5 172.6,37.5 173.6,37.5 174.7,37.5 175.7,37.5 176.7,37.5 177.7,37.5 178.7,37.4 179.7,37.4 180.7,37.4 181.7,37.4 182.7,37.4 183.8,37.4 184.8,37.4 185.8,37.4 186.8,37.4 187.8,37.4 188.8,37.4 189.8,37.4 190.8,37.4 191.9,37.3 192.9,37.3 193.9,37.3 194.9,37.3 195.9,37.3 196.9,37.3 197.9,37.3 198.9,37.3 199.9,37.3 201.0,37.2 202.0,37.2 203.0,37.2 204.0,37.2 205.0,37.2 206.0,37.2 207.0,37.2 208.0,37.1 209.1,37.1 210.1,37.1 211.1,37.1 212.1,37.1 213.1,37.0 214.1,37.0 215.1,37.0 216.1,37.0 217.2,37.0 218.2,36.9 219.2,36.9 220.2,36.9 221.2,36.9 222.2,36.8 223.2,36.8 224.2,36.8 225.2,36.7 226.3,36.7 227.3,36.7 228.3,36.6 229.3,36.6 230.3,36.6 231.3,36.5 232.3,36.5 233.3,36.5 234.4,36.4 235.4,36.4 236.4,36.3 237.4,36.3 238.4,36.2 239.4,36.2 240.4,36.1 241.4,36.1 242.5,36.0 243.5,36.0 244.5,35.9 245.5,35.9 246.5,35.8 247.5,35.8 248.5,35.7 249.5,35.6 250.5,35.6 251.6,35.5 252.6,35.4 253.6,35.4 254.6,35.3 255.6,35.2 256.6,35.2 257.6,35.1 258.6,35.0 259.7,34.9 260.7,34.9 261.7,34.8 262.7,34.7 263.7,34.6 264.7,34.5 265.7,34.5 266.7,34.4 267.7,34.3 268.8,34.2 269.8,34.1 270.8,34.0 271.8,34.0 272.8,33.9 273.8,33.8 274.8,33.7 275.8,33.6 276.9,33.6 277.9,33.5 278.9,33.4 279.9,33.4 280.9,33.3 281.9,33.2 282.9,33.2 283.9,33.1 285.0,33.1 286.0,33.0 287.0,33.0 288.0,33.0 289.0,32.9 290.0,32.9 291.0,32.9 292.0,32.9 293.0,32.9 294.1,32.9 295.1,33.0 296.1,33.0 297.1,33.1 298.1,33.1 299.1,33.2 300.1,33.3 301.1,33.4 302.2,33.5 303.2,33.6 304.2,33.7 305.2,33.9 306.2,34.1 307.2,34.2 308.2,34.4 309.2,34.6 310.3,34.9 311.3,35.1 312.3,35.4 313.3,35.6 314.3,35.9 315.3,36.2 316.3,36.5 317.3,36.8 318.3,37.1 319.4,37.5 320.4,37.8 321.4,38.2 322.4,38.6 323.4,38.9 324.4,39.3 325.4,39.7 326.4,40.1 327.5,40.5 328.5,41.0 329.5,41.4 330.5,41.8 331.5,42.3 332.5,42.7 333.5,43.2 334.5,43.6 335.5,44.1 336.6,44.6 337.6,45.0 338.6,45.5 339.6,46.0 340.6,46.5 341.6,46.9 342.6,47.4 343.6,47.9 344.7,48.4 345.7,48.9 346.7,49.4 347.7,49.9 348.7,50.4 349.7,50.9 350.7,51.4 351.7,51.9 352.8,52.4 353.8,52.8 354.8,53.3 355.8,53.8 356.8,54.3 357.8,54.8 358.8,55.3 359.8,55.8 360.8,56.3 361.9,56.8 362.9,57.3 363.9,57.8 364.9,58.3 365.9,58.8 366.9,59.3 367.9,59.8 368.9,60.3 370.0,60.8 371.0,61.3 372.0,61.8 373.0,62.3 374.0,62.8 375.0,63.3 376.0,63.8 377.0,64.3 378.1,64.8 379.1,65.3 380.1,65.8 381.1,66.3 382.1,66.8 383.1,67.2 384.1,67.7 385.1,68.2 386.1,68.7 387.2,69.2 388.2,69.7 389.2,70.2 390.2,70.7 391.2,71.2 392.2,71.7 393.2,72.1 394.2,72.6 395.3,73.1 396.3,73.6 397.3,74.1 398.3,74.6 399.3,75.1 400.3,75.6 401.3,76.0 402.3,76.5 403.3,77.0 404.4,77.5 405.4,78.0 406.4,78.5 407.4,79.0 408.4,79.4 409.4,79.9 410.4,80.4 411.4,80.9 412.5,81.4 413.5,81.9 414.5,82.3 415.5,82.8 416.5,83.3 417.5,83.8 418.5,84.3 419.5,84.8 420.6,85.2 421.6,85.7 422.6,86.2 423.6,86.7 424.6,87.2 425.6,87.7 426.6,88.1 427.6,88.6 428.6,89.1 429.7,89.6 430.7,90.1 431.7,90.6 432.7,91.0 433.7,91.5 434.7,92.0 435.7,92.5 436.7,93.0 437.8,93.4 438.8,93.9 439.8,94.4 440.8,94.9 441.8,95.4 442.8,95.8 443.8,96.3 444.8,96.8 445.9,97.3 446.9,97.8 447.9,98.2 448.9,98.7 449.9,99.2 450.9,99.7 451.9,100.2 452.9,100.6 453.9,101.1 455.0,101.6 456.0,102.1 457.0,102.6 458.0,103.1 459.0,103.5 460.0,104.0 461.0,104.5 462.0,105.0 463.1,105.5 464.1,105.9 465.1,106.4 466.1,106.9 467.1,107.4 468.1,107.8 469.1,108.3 470.1,108.8 471.1,109.3 472.2,109.8 473.2,110.2 474.2,110.7 475.2,111.2 476.2,111.7 477.2,112.2 478.2,112.6 479.2,113.1 480.3,113.6 481.3,114.1 482.3,114.6 483.3,115.0 484.3,115.5 485.3,116.0 486.3,116.5 487.3,117.0 488.4,117.4 489.4,117.9 490.4,118.4 491.4,118.9 492.4,119.4 493.4,119.8 494.4,120.3 495.4,120.8 496.4,121.3 497.5,121.8 498.5,122.2 499.5,122.7 500.5,123.2 501.5,123.7 502.5,124.2 503.5,124.6 504.5,125.1 505.6,125.6 506.6,126.1 507.6,126.5 508.6,127.0 509.6,127.5 510.6,128.0 511.6,128.5 512.6,128.9 513.6,129.4 514.7,129.9 515.7,130.4 516.7,130.9 517.7,131.3 518.7,131.8 519.7,132.3 520.7,132.8 521.7,133.3 522.8,133.7 523.8,134.2 524.8,134.7 525.8,135.2 526.8,135.7 527.8,136.1 528.8,136.6 529.8,137.1 530.9,137.6 531.9,138.0 532.9,138.5 533.9,139.0 534.9,139.5 535.9,140.0 536.9,140.4 537.9,140.9 538.9,141.4 540.0,141.9 541.0,142.4 542.0,142.8 543.0,143.3 544.0,143.8 545.0,144.3 546.0,144.8 547.0,145.2 548.1,145.7 549.1,146.2 550.1,146.7 551.1,147.2 552.1,147.6 553.1,148.1 554.1,148.6 555.1,149.1 556.2,149.5 557.2,150.0 558.2,150.5 559.2,151.0 560.2,151.5 561.2,151.9 562.2,152.4 563.2,152.9 564.2,153.4 565.3,153.9 566.3,154.3 567.3,154.8 568.3,155.3 569.3,155.8 570.3,156.3 571.3,156.7 572.3,157.2 573.4,157.7 574.4,158.2 575.4,158.7 576.4,159.1 577.4,159.6 578.4,160.1 579.4,160.6 580.4,161.0 581.4,161.5 582.5,162.0 583.5,162.5 584.5,163.0 585.5,163.4 586.5,163.9 587.5,164.4 588.5,164.9 589.5,165.4 590.6,165.8 591.6,166.3 592.6,166.8 593.6,167.3 594.6,167.8 595.6,168.2 596.6,168.7 597.6,169.2 598.7,169.7 599.7,170.2 600.7,170.6 601.7,171.1 602.7,171.6 603.7,172.1 604.7,172.5 605.7,173.0 606.7,173.5 607.8,174.0 608.8,174.5 609.8,174.9 610.8,175.4 611.8,175.9 612.8,176.4 613.8,176.9 614.8,177.3 615.9,177.8 616.9,178.3 617.9,178.8 618.9,179.3 619.9,179.7 620.9,180.2 621.9,180.7 622.9,181.2 624.0,181.7 625.0,182.1 626.0,182.6 627.0,183.1 628.0,183.6 629.0,184.0 630.0,184.5 631.0,185.0 632.0,185.5 633.1,186.0 634.1,186.4 635.1,186.9 636.1,187.4 637.1,187.9 638.1,188.4 639.1,188.8 640.1,189.3 641.2,189.8 642.2,190.3 643.2,190.8 644.2,191.2 645.2,191.7 646.2,192.2 647.2,192.7 648.2,193.2 649.2,193.6 650.3,194.1 651.3,194.6 652.3,195.1 653.3,195.5 654.3,196.0 655.3,196.5 656.3,197.0 657.3,197.5 658.4,197.9 659.4,198.4 660.4,198.9 661.4,199.4 662.4,199.9 663.4,200.3 664.4,200.8 665.4,201.3 666.5,201.8 667.5,202.3 668.5,202.7 669.5,203.2 670.5,203.7"/>
<polyline clip-path="url(#c1)" fill="none" stroke="#EDB120" stroke-width="1.25" stroke-opacity="0.9" stroke-linejoin="round" points="64.3,37.6 65.4,37.6 66.4,37.6 67.4,37.6 68.4,37.6 69.4,37.6 70.4,37.6 71.4,37.6 72.4,37.6 73.5,37.6 74.5,37.6 75.5,37.6 76.5,37.6 77.5,37.6 78.5,37.6 79.5,37.6 80.5,37.6 81.6,37.6 82.6,37.6 83.6,37.6 84.6,37.6 85.6,37.6 86.6,37.6 87.6,37.6 88.6,37.6 89.6,37.6 90.7,37.6 91.7,37.6 92.7,37.6 93.7,37.6 94.7,37.6 95.7,37.6 96.7,37.6 97.7,37.6 98.8,37.6 99.8,37.6 100.8,37.6 101.8,37.6 102.8,37.6 103.8,37.6 104.8,37.6 105.8,37.6 106.9,37.6 107.9,37.6 108.9,37.6 109.9,37.6 110.9,37.6 111.9,37.6 112.9,37.6 113.9,37.6 114.9,37.6 116.0,37.6 117.0,37.6 118.0,37.6 119.0,37.6 120.0,37.6 121.0,37.6 122.0,37.6 123.0,37.6 124.1,37.6 125.1,37.6 126.1,37.6 127.1,37.6 128.1,37.6 129.1,37.6 130.1,37.6 131.1,37.6 132.1,37.6 133.2,37.6 134.2,37.6 135.2,37.6 136.2,37.6 137.2,37.6 138.2,37.6 139.2,37.6 140.2,37.6 141.3,37.6 142.3,37.6 143.3,37.6 144.3,37.6 145.3,37.6 146.3,37.6 147.3,37.6 148.3,37.6 149.4,37.6 150.4,37.6 151.4,37.6 152.4,37.6 153.4,37.6 154.4,37.6 155.4,37.6 156.4,37.6 157.4,37.6 158.5,37.6 159.5,37.6 160.5,37.6 161.5,37.6 162.5,37.6 163.5,37.6 164.5,37.6 165.5,37.6 166.6,37.6 167.6,37.6 168.6,37.6 169.6,37.6 170.6,37.6 171.6,37.6 172.6,37.6 173.6,37.6 174.7,37.6 175.7,37.6 176.7,37.6 177.7,37.6 178.7,37.6 179.7,37.6 180.7,37.6 181.7,37.6 182.7,37.5 183.8,37.5 184.8,37.5 185.8,37.5 186.8,37.5 187.8,37.5 188.8,37.5 189.8,37.5 190.8,37.5 191.9,37.5 192.9,37.5 193.9,37.5 194.9,37.5 195.9,37.5 196.9,37.5 197.9,37.5 198.9,37.5 199.9,37.5 201.0,37.5 202.0,37.5 203.0,37.5 204.0,37.5 205.0,37.5 206.0,37.5 207.0,37.5 208.0,37.5 209.1,37.5 210.1,37.5 211.1,37.5 212.1,37.4 213.1,37.4 214.1,37.4 215.1,37.4 216.1,37.4 217.2,37.4 218.2,37.4 219.2,37.4 220.2,37.4 221.2,37.4 222.2,37.4 223.2,37.4 224.2,37.4 225.2,37.3 226.3,37.3 227.3,37.3 228.3,37.3 229.3,37.3 230.3,37.3 231.3,37.3 232.3,37.3 233.3,37.3 234.4,37.2 235.4,37.2 236.4,37.2 237.4,37.2 238.4,37.2 239.4,37.2 240.4,37.2 241.4,37.1 242.5,37.1 243.5,37.1 244.5,37.1 245.5,37.1 246.5,37.0 247.5,37.0 248.5,37.0 249.5,37.0 250.5,37.0 251.6,36.9 252.6,36.9 253.6,36.9 254.6,36.9 255.6,36.8 256.6,36.8 257.6,36.8 258.6,36.7 259.7,36.7 260.7,36.7 261.7,36.6 262.7,36.6 263.7,36.6 264.7,36.5 265.7,36.5 266.7,36.5 267.7,36.4 268.8,36.4 269.8,36.3 270.8,36.3 271.8,36.2 272.8,36.2 273.8,36.1 274.8,36.1 275.8,36.0 276.9,36.0 277.9,35.9 278.9,35.9 279.9,35.8 280.9,35.8 281.9,35.7 282.9,35.6 283.9,35.6 285.0,35.5 286.0,35.4 287.0,35.4 288.0,35.3 289.0,35.2 290.0,35.1 291.0,35.1 292.0,35.0 293.0,34.9 294.1,34.8 295.1,34.7 296.1,34.7 297.1,34.6 298.1,34.5 299.1,34.4 300.1,34.3 301.1,34.2 302.2,34.1 303.2,34.0 304.2,33.9 305.2,33.8 306.2,33.8 307.2,33.7 308.2,33.6 309.2,33.5 310.3,33.4 311.3,33.3 312.3,33.2 313.3,33.1 314.3,33.0 315.3,32.9 316.3,32.9 317.3,32.8 318.3,32.7 319.4,32.6 320.4,32.6 321.4,32.5 322.4,32.5 323.4,32.4 324.4,32.4 325.4,32.3 326.4,32.3 327.5,32.3 328.5,32.3 329.5,32.3 330.5,32.3 331.5,32.3 332.5,32.3 333.5,32.3 334.5,32.4 335.5,32.5 336.6,32.5 337.6,32.6 338.6,32.7 339.6,32.8 340.6,32.9 341.6,33.1 342.6,33.2 343.6,33.4 344.7,33.6 345.7,33.8 346.7,34.0 347.7,34.2 348.7,34.5 349.7,34.7 350.7,35.0 351.7,35.3 352.8,35.6 353.8,35.9 354.8,36.2 355.8,36.5 356.8,36.8 357.8,37.2 358.8,37.6 359.8,37.9 360.8,38.3 361.9,38.7 362.9,39.1 363.9,39.5 364.9,39.9 365.9,40.3 366.9,40.8 367.9,41.2 368.9,41.6 370.0,42.1 371.0,42.5 372.0,43.0 373.0,43.4 374.0,43.9 375.0,44.4 376.0,44.8 377.0,45.3 378.1,45.8 379.1,46.3 380.1,46.7 381.1,47.2 382.1,47.7 383.1,48.2 384.1,48.7 385.1,49.2 386.1,49.7 387.2,50.2 388.2,50.7 389.2,51.1 390.2,51.6 391.2,52.1 392.2,52.6 393.2,53.1 394.2,53.6 395.3,54.1 396.3,54.6 397.3,55.1 398.3,55.6 399.3,56.1 400.3,56.6 401.3,57.1 402.3,57.6 403.3,58.1 404.4,58.6 405.4,59.1 406.4,59.6 407.4,60.0 408.4,60.5 409.4,61.0 410.4,61.5 411.4,62.0 412.5,62.5 413.5,63.0 414.5,63.5 415.5,64.0 416.5,64.5 417.5,65.0 418.5,65.5 419.5,66.0 420.6,66.4 421.6,66.9 422.6,67.4 423.6,67.9 424.6,68.4 425.6,68.9 426.6,69.4 427.6,69.9 428.6,70.4 429.7,70.8 430.7,71.3 431.7,71.8 432.7,72.3 433.7,72.8 434.7,73.3 435.7,73.8 436.7,74.3 437.8,74.7 438.8,75.2 439.8,75.7 440.8,76.2 441.8,76.7 442.8,77.2 443.8,77.6 444.8,78.1 445.9,78.6 446.9,79.1 447.9,79.6 448.9,80.1 449.9,80.6 450.9,81.0 451.9,81.5 452.9,82.0 453.9,82.5 455.0,83.0 456.0,83.4 457.0,83.9 458.0,84.4 459.0,84.9 460.0,85.4 461.0,85.9 462.0,86.3 463.1,86.8 464.1,87.3 465.1,87.8 466.1,88.3 467.1,88.8 468.1,89.2 469.1,89.7 470.1,90.2 471.1,90.7 472.2,91.2 473.2,91.6 474.2,92.1 475.2,92.6 476.2,93.1 477.2,93.6 478.2,94.0 479.2,94.5 480.3,95.0 481.3,95.5 482.3,96.0 483.3,96.4 484.3,96.9 485.3,97.4 486.3,97.9 487.3,98.4 488.4,98.8 489.4,99.3 490.4,99.8 491.4,100.3 492.4,100.8 493.4,101.2 494.4,101.7 495.4,102.2 496.4,102.7 497.5,103.2 498.5,103.6 499.5,104.1 500.5,104.6 501.5,105.1 502.5,105.6 503.5,106.0 504.5,106.5 505.6,107.0 506.6,107.5 507.6,108.0 508.6,108.4 509.6,108.9 510.6,109.4 511.6,109.9 512.6,110.4 513.6,110.8 514.7,111.3 515.7,111.8 516.7,112.3 517.7,112.8 518.7,113.2 519.7,113.7 520.7,114.2 521.7,114.7 522.8,115.2 523.8,115.6 524.8,116.1 525.8,116.6 526.8,117.1 527.8,117.6 528.8,118.0 529.8,118.5 530.9,119.0 531.9,119.5 532.9,119.9 533.9,120.4 534.9,120.9 535.9,121.4 536.9,121.9 537.9,122.3 538.9,122.8 540.0,123.3 541.0,123.8 542.0,124.3 543.0,124.7 544.0,125.2 545.0,125.7 546.0,126.2 547.0,126.7 548.1,127.1 549.1,127.6 550.1,128.1 551.1,128.6 552.1,129.1 553.1,129.5 554.1,130.0 555.1,130.5 556.2,131.0 557.2,131.5 558.2,131.9 559.2,132.4 560.2,132.9 561.2,133.4 562.2,133.8 563.2,134.3 564.2,134.8 565.3,135.3 566.3,135.8 567.3,136.2 568.3,136.7 569.3,137.2 570.3,137.7 571.3,138.2 572.3,138.6 573.4,139.1 574.4,139.6 575.4,140.1 576.4,140.6 577.4,141.0 578.4,141.5 579.4,142.0 580.4,142.5 581.4,143.0 582.5,143.4 583.5,143.9 584.5,144.4 585.5,144.9 586.5,145.3 587.5,145.8 588.5,146.3 589.5,146.8 590.6,147.3 591.6,147.7 592.6,148.2 593.6,148.7 594.6,149.2 595.6,149.7 596.6,150.1 597.6,150.6 598.7,151.1 599.7,151.6 600.7,152.1 601.7,152.5 602.7,153.0 603.7,153.5 604.7,154.0 605.7,154.5 606.7,154.9 607.8,155.4 608.8,155.9 609.8,156.4 610.8,156.8 611.8,157.3 612.8,157.8 613.8,158.3 614.8,158.8 615.9,159.2 616.9,159.7 617.9,160.2 618.9,160.7 619.9,161.2 620.9,161.6 621.9,162.1 622.9,162.6 624.0,163.1 625.0,163.6 626.0,164.0 627.0,164.5 628.0,165.0 629.0,165.5 630.0,166.0 631.0,166.4 632.0,166.9 633.1,167.4 634.1,167.9 635.1,168.3 636.1,168.8 637.1,169.3 638.1,169.8 639.1,170.3 640.1,170.7 641.2,171.2 642.2,171.7 643.2,172.2 644.2,172.7 645.2,173.1 646.2,173.6 647.2,174.1 648.2,174.6 649.2,175.1 650.3,175.5 651.3,176.0 652.3,176.5 653.3,177.0 654.3,177.5 655.3,177.9 656.3,178.4 657.3,178.9 658.4,179.4 659.4,179.8 660.4,180.3 661.4,180.8 662.4,181.3 663.4,181.8 664.4,182.2 665.4,182.7 666.5,183.2 667.5,183.7 668.5,184.2 669.5,184.6 670.5,185.1"/>
<polyline clip-path="url(#c1)" fill="none" stroke="#7E2F8E" stroke-width="1.25" stroke-opacity="0.9" stroke-linejoin="round" points="64.3,37.6 65.4,37.6 66.4,37.6 67.4,37.6 68.4,37.6 69.4,37.6 70.4,37.6 71.4,37.6 72.4,37.6 73.5,37.6 74.5,37.6 75.5,37.6 76.5,37.6 77.5,37.6 78.5,37.6 79.5,37.6 80.5,37.6 81.6,37.6 82.6,37.6 83.6,37.6 84.6,37.6 85.6,37.6 86.6,37.6 87.6,37.6 88.6,37.6 89.6,37.6 90.7,37.6 91.7,37.6 92.7,37.6 93.7,37.6 94.7,37.6 95.7,37.6 96.7,37.6 97.7,37.6 98.8,37.6 99.8,37.6 100.8,37.6 101.8,37.6 102.8,37.6 103.8,37.6 104.8,37.6 105.8,37.6 106.9,37.6 107.9,37.6 108.9,37.6 109.9,37.6 110.9,37.6 111.9,37.6 112.9,37.6 113.9,37.6 114.9,37.6 116.0,37.6 117.0,37.6 118.0,37.6 119.0,37.6 120.0,37.6 121.0,37.6 122.0,37.6 123.0,37.6 124.1,37.6 125.1,37.6 126.1,37.6 127.1,37.6 128.1,37.6 129.1,37.6 130.1,37.6 131.1,37.6 132.1,37.6 133.2,37.6 134.2,37.6 135.2,37.6 136.2,37.6 137.2,37.6 138.2,37.6 139.2,37.6 140.2,37.6 141.3,37.6 142.3,37.6 143.3,37.6 144.3,37.6 145.3,37.6 146.3,37.6 147.3,37.6 148.3,37.6 149.4,37.6 150.4,37.6 151.4,37.6 152.4,37.6 153.4,37.6 154.4,37.6 155.4,37.6 156.4,37.6 157.4,37.6 158.5,37.6 159.5,37.6 160.5,37.6 161.5,37.6 162.5,37.6 163.5,37.6 164.5,37.6 165.5,37.6 166.6,37.6 167.6,37.6 168.6,37.6 169.6,37.6 170.6,37.6 171.6,37.6 172.6,37.6 173.6,37.6 174.7,37.6 175.7,37.6 176.7,37.6 177.7,37.6 178.7,37.6 179.7,37.6 180.7,37.6 181.7,37.6 182.7,37.6 183.8,37.6 184.8,37.6 185.8,37.6 186.8,37.6 187.8,37.6 188.8,37.6 189.8,37.6 190.8,37.6 191.9,37.6 192.9,37.6 193.9,37.6 194.9,37.6 195.9,37.6 196.9,37.6 197.9,37.6 198.9,37.6 199.9,37.6 201.0,37.6 202.0,37.6 203.0,37.6 204.0,37.6 205.0,37.6 206.0,37.6 207.0,37.6 208.0,37.6 209.1,37.6 210.1,37.6 211.1,37.6 212.1,37.6 213.1,37.6 214.1,37.6 215.1,37.6 216.1,37.6 217.2,37.6 218.2,37.6 219.2,37.6 220.2,37.6 221.2,37.6 222.2,37.6 223.2,37.6 224.2,37.6 225.2,37.6 226.3,37.6 227.3,37.6 228.3,37.6 229.3,37.5 230.3,37.5 231.3,37.5 232.3,37.5 233.3,37.5 234.4,37.5 235.4,37.5 236.4,37.5 237.4,37.5 238.4,37.5 239.4,37.5 240.4,37.5 241.4,37.5 242.5,37.5 243.5,37.5 244.5,37.5 245.5,37.5 246.5,37.5 247.5,37.5 248.5,37.5 249.5,37.5 250.5,37.5 251.6,37.5 252.6,37.5 253.6,37.5 254.6,37.5 255.6,37.5 256.6,37.5 257.6,37.5 258.6,37.4 259.7,37.4 260.7,37.4 261.7,37.4 262.7,37.4 263.7,37.4 264.7,37.4 265.7,37.4 266.7,37.4 267.7,37.4 268.8,37.4 269.8,37.4 270.8,37.4 271.8,37.4 272.8,37.3 273.8,37.3 274.8,37.3 275.8,37.3 276.9,37.3 277.9,37.3 278.9,37.3 279.9,37.3 280.9,37.2 281.9,37.2 282.9,37.2 283.9,37.2 285.0,37.2 286.0,37.2 287.0,37.2 288.0,37.1 289.0,37.1 290.0,37.1 291.0,37.1 292.0,37.1 293.0,37.1 294.1,37.0 295.1,37.0 296.1,37.0 297.1,37.0 298.1,36.9 299.1,36.9 300.1,36.9 301.1,36.9 302.2,36.8 303.2,36.8 304.2,36.8 305.2,36.7 306.2,36.7 307.2,36.7 308.2,36.6 309.2,36.6 310.3,36.6 311.3,36.5 312.3,36.5 313.3,36.5 314.3,36.4 315.3,36.4 316.3,36.3 317.3,36.3 318.3,36.2 319.4,36.2 320.4,36.1 321.4,36.1 322.4,36.0 323.4,36.0 324.4,35.9 325.4,35.9 326.4,35.8 327.5,35.8 328.5,35.7 329.5,35.6 330.5,35.6 331.5,35.5 332.5,35.4 333.5,35.4 334.5,35.3 335.5,35.2 336.6,35.1 337.6,35.0 338.6,35.0 339.6,34.9 340.6,34.8 341.6,34.7 342.6,34.6 343.6,34.5 344.7,34.5 345.7,34.4 346.7,34.3 347.7,34.2 348.7,34.1 349.7,34.0 350.7,33.9 351.7,33.8 352.8,33.7 353.8,33.6 354.8,33.5 355.8,33.4 356.8,33.3 357.8,33.2 358.8,33.1 359.8,33.0 360.8,32.9 361.9,32.8 362.9,32.7 363.9,32.6 364.9,32.5 365.9,32.5 366.9,32.4 367.9,32.3 368.9,32.2 370.0,32.2 371.0,32.1 372.0,32.0 373.0,32.0 374.0,32.0 375.0,31.9 376.0,31.9 377.0,31.9 378.1,31.9 379.1,31.9 380.1,31.9 381.1,31.9 382.1,31.9 383.1,32.0 384.1,32.0 385.1,32.1 386.1,32.2 387.2,32.3 388.2,32.4 389.2,32.5 390.2,32.7 391.2,32.8 392.2,33.0 393.2,33.2 394.2,33.4 395.3,33.6 396.3,33.8 397.3,34.0 398.3,34.3 399.3,34.5 400.3,34.8 401.3,35.1 402.3,35.4 403.3,35.7 404.4,36.1 405.4,36.4 406.4,36.7 407.4,37.1 408.4,37.5 409.4,37.8 410.4,38.2 411.4,38.6 412.5,39.0 413.5,39.4 414.5,39.9 415.5,40.3 416.5,40.7 417.5,41.2 418.5,41.6 419.5,42.0 420.6,42.5 421.6,43.0 422.6,43.4 423.6,43.9 424.6,44.3 425.6,44.8 426.6,45.3 427.6,45.8 428.6,46.2 429.7,46.7 430.7,47.2 431.7,47.7 432.7,48.2 433.7,48.7 434.7,49.2 435.7,49.6 436.7,50.1 437.8,50.6 438.8,51.1 439.8,51.6 440.8,52.1 441.8,52.6 442.8,53.1 443.8,53.6 444.8,54.1 445.9,54.6 446.9,55.1 447.9,55.6 448.9,56.0 449.9,56.5 450.9,57.0 451.9,57.5 452.9,58.0 453.9,58.5 455.0,59.0 456.0,59.5 457.0,60.0 458.0,60.5 459.0,61.0 460.0,61.5 461.0,62.0 462.0,62.4 463.1,62.9 464.1,63.4 465.1,63.9 466.1,64.4 467.1,64.9 468.1,65.4 469.1,65.9 470.1,66.4 471.1,66.9 472.2,67.3 473.2,67.8 474.2,68.3 475.2,68.8 476.2,69.3 477.2,69.8 478.2,70.3 479.2,70.8 480.3,71.2 481.3,71.7 482.3,72.2 483.3,72.7 484.3,73.2 485.3,73.7 486.3,74.2 487.3,74.6 488.4,75.1 489.4,75.6 490.4,76.1 491.4,76.6 492.4,77.1 493.4,77.6 494.4,78.0 495.4,78.5 496.4,79.0 497.5,79.5 498.5,80.0 499.5,80.5 500.5,80.9 501.5,81.4 502.5,81.9 503.5,82.4 504.5,82.9 505.6,83.3 506.6,83.8 507.6,84.3 508.6,84.8 509.6,85.3 510.6,85.8 511.6,86.2 512.6,86.7 513.6,87.2 514.7,87.7 515.7,88.2 516.7,88.6 517.7,89.1 518.7,89.6 519.7,90.1 520.7,90.6 521.7,91.1 522.8,91.5 523.8,92.0 524.8,92.5 525.8,93.0 526.8,93.5 527.8,93.9 528.8,94.4 529.8,94.9 530.9,95.4 531.9,95.9 532.9,96.3 533.9,96.8 534.9,97.3 535.9,97.8 536.9,98.3 537.9,98.7 538.9,99.2 540.0,99.7 541.0,100.2 542.0,100.7 543.0,101.1 544.0,101.6 545.0,102.1 546.0,102.6 547.0,103.1 548.1,103.5 549.1,104.0 550.1,104.5 551.1,105.0 552.1,105.5 553.1,105.9 554.1,106.4 555.1,106.9 556.2,107.4 557.2,107.9 558.2,108.3 559.2,108.8 560.2,109.3 561.2,109.8 562.2,110.3 563.2,110.7 564.2,111.2 565.3,111.7 566.3,112.2 567.3,112.6 568.3,113.1 569.3,113.6 570.3,114.1 571.3,114.6 572.3,115.0 573.4,115.5 574.4,116.0 575.4,116.5 576.4,117.0 577.4,117.4 578.4,117.9 579.4,118.4 580.4,118.9 581.4,119.4 582.5,119.8 583.5,120.3 584.5,120.8 585.5,121.3 586.5,121.8 587.5,122.2 588.5,122.7 589.5,123.2 590.6,123.7 591.6,124.2 592.6,124.6 593.6,125.1 594.6,125.6 595.6,126.1 596.6,126.5 597.6,127.0 598.7,127.5 599.7,128.0 600.7,128.5 601.7,128.9 602.7,129.4 603.7,129.9 604.7,130.4 605.7,130.9 606.7,131.3 607.8,131.8 608.8,132.3 609.8,132.8 610.8,133.3 611.8,133.7 612.8,134.2 613.8,134.7 614.8,135.2 615.9,135.7 616.9,136.1 617.9,136.6 618.9,137.1 619.9,137.6 620.9,138.1 621.9,138.5 622.9,139.0 624.0,139.5 625.0,140.0 626.0,140.4 627.0,140.9 628.0,141.4 629.0,141.9 630.0,142.4 631.0,142.8 632.0,143.3 633.1,143.8 634.1,144.3 635.1,144.8 636.1,145.2 637.1,145.7 638.1,146.2 639.1,146.7 640.1,147.2 641.2,147.6 642.2,148.1 643.2,148.6 644.2,149.1 645.2,149.6 646.2,150.0 647.2,150.5 648.2,151.0 649.2,151.5 650.3,151.9 651.3,152.4 652.3,152.9 653.3,153.4 654.3,153.9 655.3,154.3 656.3,154.8 657.3,155.3 658.4,155.8 659.4,156.3 660.4,156.7 661.4,157.2 662.4,157.7 663.4,158.2 664.4,158.7 665.4,159.1 666.5,159.6 667.5,160.1 668.5,160.6 669.5,161.0 670.5,161.5"/>
<polyline clip-path="url(#c1)" fill="none" stroke="#77AC30" stroke-width="1.25" stroke-opacity="0.9" stroke-linejoin="round" points="64.3,37.6 65.4,37.6 66.4,37.6 67.4,37.6 68.4,37.6 69.4,37.6 70.4,37.6 71.4,37.6 72.4,37.6 73.5,37.6 74.5,37.6 75.5,37.6 76.5,37.6 77.5,37.6 78.5,37.6 79.5,37.6 80.5,37.6 81.6,37.6 82.6,37.6 83.6,37.6 84.6,37.6 85.6,37.6 86.6,37.6 87.6,37.6 88.6,37.6 89.6,37.6 90.7,37.6 91.7,37.6 92.7,37.6 93.7,37.6 94.7,37.6 95.7,37.6 96.7,37.6 97.7,37.6 98.8,37.6 99.8,37.6 100.8,37.6 101.8,37.6 102.8,37.6 103.8,37.6 104.8,37.6 105.8,37.6 106.9,37.6 107.9,37.6 108.9,37.6 109.9,37.6 110.9,37.6 111.9,37.6 112.9,37.6 113.9,37.6 114.9,37.6 116.0,37.6 117.0,37.6 118.0,37.6 119.0,37.6 120.0,37.6 121.0,37.6 122.0,37.6 123.0,37.6 124.1,37.6 125.1,37.6 126.1,37.6 127.1,37.6 128.1,37.6 129.1,37.6 130.1,37.6 131.1,37.6 132.1,37.6 133.2,37.6 134.2,37.6 135.2,37.6 136.2,37.6 137.2,37.6 138.2,37.6 139.2,37.6 140.2,37.6 141.3,37.6 142.3,37.6 143.3,37.6 144.3,37.6 145.3,37.6 146.3,37.6 147.3,37.6 148.3,37.6 149.4,37.6 150.4,37.6 151.4,37.6 152.4,37.6 153.4,37.6 154.4,37.6 155.4,37.6 156.4,37.6 157.4,37.6 158.5,37.6 159.5,37.6 160.5,37.6 161.5,37.6 162.5,37.6 163.5,37.6 164.5,37.6 165.5,37.6 166.6,37.6 167.6,37.6 168.6,37.6 169.6,37.6 170.6,37.6 171.6,37.6 172.6,37.6 173.6,37.6 174.7,37.6 175.7,37.6 176.7,37.6 177.7,37.6 178.7,37.6 179.7,37.6 180.7,37.6 181.7,37.6 182.7,37.6 183.8,37.6 184.8,37.6 185.8,37.6 186.8,37.6 187.8,37.6 188.8,37.6 189.8,37.6 190.8,37.6 191.9,37.6 192.9,37.6 193.9,37.6 194.9,37.6 195.9,37.6 196.9,37.6 197.9,37.6 198.9,37.6 199.9,37.6 201.0,37.6 202.0,37.6 203.0,37.6 204.0,37.6 205.0,37.6 206.0,37.6 207.0,37.6 208.0,37.6 209.1,37.6 210.1,37.6 211.1,37.6 212.1,37.6 213.1,37.6 214.1,37.6 215.1,37.6 216.1,37.6 217.2,37.6 218.2,37.6 219.2,37.6 220.2,37.6 221.2,37.6 222.2,37.6 223.2,37.6 224.2,37.6 225.2,37.6 226.3,37.6 227.3,37.6 228.3,37.6 229.3,37.6 230.3,37.6 231.3,37.6 232.3,37.6 233.3,37.6 234.4,37.6 235.4,37.6 236.4,37.6 237.4,37.6 238.4,37.6 239.4,37.6 240.4,37.6 241.4,37.6 242.5,37.6 243.5,37.6 244.5,37.6 245.5,37.6 246.5,37.6 247.5,37.6 248.5,37.6 249.5,37.6 250.5,37.6 251.6,37.6 252.6,37.6 253.6,37.6 254.6,37.6 255.6,37.6 256.6,37.6 257.6,37.6 258.6,37.6 259.7,37.6 260.7,37.6 261.7,37.6 262.7,37.6 263.7,37.6 264.7,37.6 265.7,37.5 266.7,37.5 267.7,37.5 268.8,37.5 269.8,37.5 270.8,37.5 271.8,37.5 272.8,37.5 273.8,37.5 274.8,37.5 275.8,37.5 276.9,37.5 277.9,37.5 278.9,37.5 279.9,37.5 280.9,37.5 281.9,37.5 282.9,37.5 283.9,37.5 285.0,37.5 286.0,37.5 287.0,37.5 288.0,37.5 289.0,37.5 290.0,37.5 291.0,37.5 292.0,37.5 293.0,37.5 294.1,37.5 295.1,37.4 296.1,37.4 297.1,37.4 298.1,37.4 299.1,37.4 300.1,37.4 301.1,37.4 302.2,37.4 303.2,37.4 304.2,37.4 305.2,37.4 306.2,37.4 307.2,37.4 308.2,37.3 309.2,37.3 310.3,37.3 311.3,37.3 312.3,37.3 313.3,37.3 314.3,37.3 315.3,37.3 316.3,37.3 317.3,37.2 318.3,37.2 319.4,37.2 320.4,37.2 321.4,37.2 322.4,37.2 323.4,37.2 324.4,37.1 325.4,37.1 326.4,37.1 327.5,37.1 328.5,37.1 329.5,37.0 330.5,37.0 331.5,37.0 332.5,37.0 333.5,37.0 334.5,36.9 335.5,36.9 336.6,36.9 337.6,36.9 338.6,36.8 339.6,36.8 340.6,36.8 341.6,36.7 342.6,36.7 343.6,36.7 344.7,36.6 345.7,36.6 346.7,36.6 347.7,36.5 348.7,36.5 349.7,36.4 350.7,36.4 351.7,36.4 352.8,36.3 353.8,36.3 354.8,36.2 355.8,36.2 356.8,36.1 357.8,36.1 358.8,36.0 359.8,36.0 360.8,35.9 361.9,35.8 362.9,35.8 363.9,35.7 364.9,35.7 365.9,35.6 366.9,35.5 367.9,35.5 368.9,35.4 370.0,35.3 371.0,35.2 372.0,35.2 373.0,35.1 374.0,35.0 375.0,34.9 376.0,34.8 377.0,34.8 378.1,34.7 379.1,34.6 380.1,34.5 381.1,34.4 382.1,34.3 383.1,34.2 384.1,34.1 385.1,34.0 386.1,33.9 387.2,33.8 388.2,33.7 389.2,33.6 390.2,33.5 391.2,33.4 392.2,33.3 393.2,33.2 394.2,33.1 395.3,33.0 396.3,32.9 397.3,32.8 398.3,32.7 399.3,32.6 400.3,32.5 401.3,32.4 402.3,32.4 403.3,32.3 404.4,32.2 405.4,32.1 406.4,32.1 407.4,32.0 408.4,31.9 409.4,31.9 410.4,31.8 411.4,31.8 412.5,31.8 413.5,31.7 414.5,31.7 415.5,31.7 416.5,31.7 417.5,31.8 418.5,31.8 419.5,31.8 420.6,31.9 421.6,32.0 422.6,32.0 423.6,32.1 424.6,32.2 425.6,32.4 426.6,32.5 427.6,32.6 428.6,32.8 429.7,33.0 430.7,33.2 431.7,33.4 432.7,33.6 433.7,33.8 434.7,34.1 435.7,34.3 436.7,34.6 437.8,34.9 438.8,35.2 439.8,35.5 440.8,35.8 441.8,36.2 442.8,36.5 443.8,36.9 444.8,37.3 445.9,37.6 446.9,38.0 447.9,38.4 448.9,38.8 449.9,39.2 450.9,39.6 451.9,40.1 452.9,40.5 453.9,40.9 455.0,41.4 456.0,41.8 457.0,42.3 458.0,42.7 459.0,43.2 460.0,43.6 461.0,44.1 462.0,44.6 463.1,45.0 464.1,45.5 465.1,46.0 466.1,46.5 467.1,47.0 468.1,47.4 469.1,47.9 470.1,48.4 471.1,48.9 472.2,49.4 473.2,49.9 474.2,50.4 475.2,50.9 476.2,51.3 477.2,51.8 478.2,52.3 479.2,52.8 480.3,53.3 481.3,53.8 482.3,54.3 483.3,54.8 484.3,55.3 485.3,55.8 486.3,56.3 487.3,56.8 488.4,57.3 489.4,57.8 490.4,58.2 491.4,58.7 492.4,59.2 493.4,59.7 494.4,60.2 495.4,60.7 496.4,61.2 497.5,61.7 498.5,62.2 499.5,62.7 500.5,63.2 501.5,63.7 502.5,64.1 503.5,64.6 504.5,65.1 505.6,65.6 506.6,66.1 507.6,66.6 508.6,67.1 509.6,67.6 510.6,68.1 511.6,68.5 512.6,69.0 513.6,69.5 514.7,70.0 515.7,70.5 516.7,71.0 517.7,71.5 518.7,71.9 519.7,72.4 520.7,72.9 521.7,73.4 522.8,73.9 523.8,74.4 524.8,74.9 525.8,75.3 526.8,75.8 527.8,76.3 528.8,76.8 529.8,77.3 530.9,77.8 531.9,78.2 532.9,78.7 533.9,79.2 534.9,79.7 535.9,80.2 536.9,80.7 537.9,81.1 538.9,81.6 540.0,82.1 541.0,82.6 542.0,83.1 543.0,83.6 544.0,84.0 545.0,84.5 546.0,85.0 547.0,85.5 548.1,86.0 549.1,86.4 550.1,86.9 551.1,87.4 552.1,87.9 553.1,88.4 554.1,88.9 555.1,89.3 556.2,89.8 557.2,90.3 558.2,90.8 559.2,91.3 560.2,91.7 561.2,92.2 562.2,92.7 563.2,93.2 564.2,93.7 565.3,94.1 566.3,94.6 567.3,95.1 568.3,95.6 569.3,96.1 570.3,96.5 571.3,97.0 572.3,97.5 573.4,98.0 574.4,98.5 575.4,98.9 576.4,99.4 577.4,99.9 578.4,100.4 579.4,100.9 580.4,101.3 581.4,101.8 582.5,102.3 583.5,102.8 584.5,103.3 585.5,103.7 586.5,104.2 587.5,104.7 588.5,105.2 589.5,105.7 590.6,106.1 591.6,106.6 592.6,107.1 593.6,107.6 594.6,108.1 595.6,108.5 596.6,109.0 597.6,109.5 598.7,110.0 599.7,110.5 600.7,110.9 601.7,111.4 602.7,111.9 603.7,112.4 604.7,112.9 605.7,113.3 606.7,113.8 607.8,114.3 608.8,114.8 609.8,115.3 610.8,115.7 611.8,116.2 612.8,116.7 613.8,117.2 614.8,117.6 615.9,118.1 616.9,118.6 617.9,119.1 618.9,119.6 619.9,120.0 620.9,120.5 621.9,121.0 622.9,121.5 624.0,122.0 625.0,122.4 626.0,122.9 627.0,123.4 628.0,123.9 629.0,124.4 630.0,124.8 631.0,125.3 632.0,125.8 633.1,126.3 634.1,126.8 635.1,127.2 636.1,127.7 637.1,128.2 638.1,128.7 639.1,129.2 640.1,129.6 641.2,130.1 642.2,130.6 643.2,131.1 644.2,131.5 645.2,132.0 646.2,132.5 647.2,133.0 648.2,133.5 649.2,133.9 650.3,134.4 651.3,134.9 652.3,135.4 653.3,135.9 654.3,136.3 655.3,136.8 656.3,137.3 657.3,137.8 658.4,138.3 659.4,138.7 660.4,139.2 661.4,139.7 662.4,140.2 663.4,140.7 664.4,141.1 665.4,141.6 666.5,142.1 667.5,142.6 668.5,143.0 669.5,143.5 670.5,144.0"/>
<polyline clip-path="url(#c2)" fill="none" stroke="#0072BD" stroke-width="1.25" stroke-opacity="0.9" stroke-linejoin="round" points="64.3,287.3 65.4,287.3 66.4,287.3 67.4,287.4 68.4,287.4 69.4,287.4 70.4,287.4 71.4,287.4 72.4,287.4 73.5,287.4 74.5,287.5 75.5,287.5 76.5,287.5 77.5,287.5 78.5,287.5 79.5,287.5 80.5,287.6 81.6,287.6 82.6,287.6 83.6,287.6 84.6,287.6 85.6,287.7 86.6,287.7 87.6,287.7 88.6,287.7 89.6,287.7 90.7,287.8 91.7,287.8 92.7,287.8 93.7,287.8 94.7,287.9 95.7,287.9 96.7,287.9 97.7,287.9 98.8,288.0 99.8,288.0 100.8,288.0 101.8,288.1 102.8,288.1 103.8,288.1 104.8,288.1 105.8,288.2 106.9,288.2 107.9,288.2 108.9,288.3 109.9,288.3 110.9,288.3 111.9,288.4 112.9,288.4 113.9,288.4 114.9,288.5 116.0,288.5 117.0,288.5 118.0,288.6 119.0,288.6 120.0,288.7 121.0,288.7 122.0,288.7 123.0,288.8 124.1,288.8 125.1,288.9 126.1,288.9 127.1,289.0 128.1,289.0 129.1,289.1 130.1,289.1 131.1,289.2 132.1,289.2 133.2,289.3 134.2,289.3 135.2,289.4 136.2,289.4 137.2,289.5 138.2,289.5 139.2,289.6 140.2,289.7 141.3,289.7 142.3,289.8 143.3,289.9 144.3,289.9 145.3,290.0 146.3,290.1 147.3,290.1 148.3,290.2 149.4,290.3 150.4,290.4 151.4,290.4 152.4,290.5 153.4,290.6 154.4,290.7 155.4,290.8 156.4,290.9 157.4,290.9 158.5,291.0 159.5,291.1 160.5,291.2 161.5,291.3 162.5,291.4 163.5,291.5 164.5,291.6 165.5,291.8 166.6,291.9 167.6,292.0 168.6,292.1 169.6,292.2 170.6,292.3 171.6,292.5 172.6,292.6 173.6,292.7 174.7,292.9 175.7,293.0 176.7,293.2 177.7,293.3 178.7,293.5 179.7,293.6 180.7,293.8 181.7,294.0 182.7,294.1 183.8,294.3 184.8,294.5 185.8,294.7 186.8,294.9 187.8,295.1 188.8,295.3 189.8,295.5 190.8,295.7 191.9,296.0 192.9,296.2 193.9,296.4 194.9,296.7 195.9,296.9 196.9,297.2 197.9,297.5 198.9,297.8 199.9,298.1 201.0,298.4 202.0,298.7 203.0,299.0 204.0,299.4 205.0,299.7 206.0,300.1 207.0,300.4 208.0,300.8 209.1,301.2 210.1,301.6 211.1,302.1 212.1,302.5 213.1,303.0 214.1,303.5 215.1,304.0 216.1,304.5 217.2,305.0 218.2,305.6 219.2,306.2 220.2,306.8 221.2,307.4 222.2,308.0 223.2,308.7 224.2,309.4 225.2,310.1 226.3,310.9 227.3,311.6 228.3,312.4 229.3,313.3 230.3,314.1 231.3,315.0 232.3,316.0 233.3,316.9 234.4,317.9 235.4,319.0 236.4,320.1 237.4,321.2 238.4,322.3 239.4,323.5 240.4,324.8 241.4,326.0 242.5,327.4 243.5,328.7 244.5,330.1 245.5,331.6 246.5,333.1 247.5,334.6 248.5,336.2 249.5,337.9 250.5,339.6 251.6,341.3 252.6,343.1 253.6,344.9 254.6,346.7 255.6,348.6 256.6,350.6 257.6,352.6 258.6,354.6 259.7,356.7 260.7,358.8 261.7,360.9 262.7,363.1 263.7,365.2 264.7,367.5 265.7,369.7 266.7,371.9 267.7,374.2 268.8,376.5 269.8,378.8 270.8,381.1 271.8,383.4 272.8,385.6 273.8,387.9 274.8,390.2 275.8,392.5 276.9,394.7 277.9,397.0 278.9,399.2 279.9,401.4 280.9,403.5 281.9,405.6 282.9,407.7 283.9,409.8 285.0,411.8 286.0,413.8 287.0,415.8 288.0,417.7 289.0,419.6 290.0,421.4 291.0,423.2 292.0,425.0 293.0,426.7 294.1,428.4 295.1,430.0 296.1,431.6 297.1,433.2 298.1,434.7 299.1,436.1 300.1,437.5 301.1,438.9 302.2,440.3 303.2,441.6 304.2,442.9 305.2,444.1 306.2,445.3 307.2,446.4 308.2,447.6 309.2,448.7 310.3,449.7 311.3,450.8 312.3,451.8 313.3,452.7 314.3,453.7 315.3,454.6 316.3,455.5 317.3,456.3 318.3,457.2 319.4,458.0 320.4,458.8 321.4,459.5 322.4,460.3 323.4,461.0 324.4,461.7 325.4,462.4 326.4,463.0 327.5,463.7 328.5,464.3 329.5,464.9 330.5,465.5 331.5,466.1 332.5,466.6 333.5,467.2 334.5,467.7 335.5,468.2 336.6,468.7 337.6,469.2 338.6,469.6 339.6,470.1 340.6,470.6 341.6,471.0 342.6,471.4 343.6,471.8 344.7,472.2 345.7,472.6 346.7,473.0 347.7,473.4 348.7,473.7 349.7,474.1 350.7,474.4 351.7,474.8 352.8,475.1 353.8,475.4 354.8,475.8 355.8,476.1 356.8,476.4 357.8,476.6 358.8,476.9 359.8,477.2 360.8,477.5 361.9,477.8 362.9,478.0 363.9,478.3 364.9,478.5 365.9,478.8 366.9,479.0 367.9,479.2 368.9,479.5 370.0,479.7 371.0,479.9 372.0,480.1 373.0,480.3 374.0,480.5 375.0,480.7 376.0,480.9 377.0,481.1 378.1,481.3 379.1,481.5 380.1,481.7 381.1,481.8 382.1,482.0 383.1,482.2 384.1,482.3 385.1,482.5 386.1,482.6 387.2,482.8 388.2,483.0 389.2,483.1 390.2,483.2 391.2,483.4 392.2,483.5 393.2,483.7 394.2,483.8 395.3,483.9 396.3,484.1 397.3,484.2 398.3,484.3 399.3,484.4 400.3,484.5 401.3,484.7 402.3,484.8 403.3,484.9 404.4,485.0 405.4,485.1 406.4,485.2 407.4,485.3 408.4,485.4 409.4,485.5 410.4,485.6 411.4,485.7 412.5,485.8 413.5,485.9 414.5,486.0 415.5,486.1 416.5,486.1 417.5,486.2 418.5,486.3 419.5,486.4 420.6,486.5 421.6,486.5 422.6,486.6 423.6,486.7 424.6,486.8 425.6,486.8 426.6,486.9 427.6,487.0 428.6,487.0 429.7,487.1 430.7,487.2 431.7,487.2 432.7,487.3 433.7,487.4 434.7,487.4 435.7,487.5 436.7,487.5 437.8,487.6 438.8,487.7 439.8,487.7 440.8,487.8 441.8,487.8 442.8,487.9 443.8,487.9 444.8,488.0 445.9,488.0 446.9,488.1 447.9,488.1 448.9,488.2 449.9,488.2 450.9,488.2 451.9,488.3 452.9,488.3 453.9,488.4 455.0,488.4 456.0,488.4 457.0,488.5 458.0,488.5 459.0,488.6 460.0,488.6 461.0,488.6 462.0,488.7 463.1,488.7 464.1,488.7 465.1,488.8 466.1,488.8 467.1,488.8 468.1,488.9 469.1,488.9 470.1,488.9 471.1,489.0 472.2,489.0 473.2,489.0 474.2,489.1 475.2,489.1 476.2,489.1 477.2,489.1 478.2,489.2 479.2,489.2 480.3,489.2 481.3,489.2 482.3,489.3 483.3,489.3 484.3,489.3 485.3,489.3 486.3,489.3 487.3,489.4 488.4,489.4 489.4,489.4 490.4,489.4 491.4,489.5 492.4,489.5 493.4,489.5 494.4,489.5 495.4,489.5 496.4,489.6 497.5,489.6 498.5,489.6 499.5,489.6 500.5,489.6 501.5,489.6 502.5,489.7 503.5,489.7 504.5,489.7 505.6,489.7 506.6,489.7 507.6,489.7 508.6,489.7 509.6,489.8 510.6,489.8 511.6,489.8 512.6,489.8 513.6,489.8 514.7,489.8 515.7,489.8 516.7,489.9 517.7,489.9 518.7,489.9 519.7,489.9 520.7,489.9 521.7,489.9 522.8,489.9 523.8,489.9 524.8,489.9 525.8,490.0 526.8,490.0 527.8,490.0 528.8,490.0 529.8,490.0 530.9,490.0 531.9,490.0 532.9,490.0 533.9,490.0 534.9,490.0 535.9,490.1 536.9,490.1 537.9,490.1 538.9,490.1 540.0,490.1 541.0,490.1 542.0,490.1 543.0,490.1 544.0,490.1 545.0,490.1 546.0,490.1 547.0,490.1 548.1,490.1 549.1,490.2 550.1,490.2 551.1,490.2 552.1,490.2 553.1,490.2 554.1,490.2 555.1,490.2 556.2,490.2 557.2,490.2 558.2,490.2 559.2,490.2 560.2,490.2 561.2,490.2 562.2,490.2 563.2,490.2 564.2,490.2 565.3,490.2 566.3,490.3 567.3,490.3 568.3,490.3 569.3,490.3 570.3,490.3 571.3,490.3 572.3,490.3 573.4,490.3 574.4,490.3 575.4,490.3 576.4,490.3 577.4,490.3 578.4,490.3 579.4,490.3 580.4,490.3 581.4,490.3 582.5,490.3 583.5,490.3 584.5,490.3 585.5,490.3 586.5,490.3 587.5,490.3 588.5,490.3 589.5,490.3 590.6,490.3 591.6,490.3 592.6,490.4 593.6,490.4 594.6,490.4 595.6,490.4 596.6,490.4 597.6,490.4 598.7,490.4 599.7,490.4 600.7,490.4 601.7,490.4 602.7,490.4 603.7,490.4 604.7,490.4 605.7,490.4 606.7,490.4 607.8,490.4 608.8,490.4 609.8,490.4 610.8,490.4 611.8,490.4 612.8,490.4 613.8,490.4 614.8,490.4 615.9,490.4 616.9,490.4 617.9,490.4 618.9,490.4 619.9,490.4 620.9,490.4 621.9,490.4 622.9,490.4 624.0,490.4 625.0,490.4 626.0,490.4 627.0,490.4 628.0,490.4 629.0,490.4 630.0,490.4 631.0,490.4 632.0,490.4 633.1,490.4 634.1,490.4 635.1,490.4 636.1,490.4 637.1,490.4 638.1,490.4 639.1,490.4 640.1,490.4 641.2,490.4 642.2,490.4 643.2,490.4 644.2,490.4 645.2,490.4 646.2,490.4 647.2,490.4 648.2,490.5 649.2,490.5 650.3,490.5 651.3,490.5 652.3,490.5 653.3,490.5 654.3,490.5 655.3,490.5 656.3,490.5 657.3,490.5 658.4,490.5 659.4,490.5 660.4,490.5 661.4,490.5 662.4,490.5 663.4,490.5 664.4,490.5 665.4,490.5 666.5,490.5 667.5,490.5 668.5,490.5 669.5,490.5 670.5,490.5"/>
<polyline clip-path="url(#c2)" fill="none" stroke="#D95319" stroke-width="1.25" stroke-opacity="0.9" stroke-linejoin="round" points="64.3,286.8 65.4,286.8 66.4,286.8 67.4,286.8 68.4,286.8 69.4,286.8 70.4,286.8 71.4,286.8 72.4,286.8 73.5,286.8 74.5,286.8 75.5,286.8 76.5,286.8 77.5,286.8 78.5,286.8 79.5,286.8 80.5,286.8 81.6,286.8 82.6,286.9 83.6,286.9 84.6,286.9 85.6,286.9 86.6,286.9 87.6,286.9 88.6,286.9 89.6,286.9 90.7,286.9 91.7,286.9 92.7,286.9 93.7,286.9 94.7,286.9 95.7,286.9 96.7,286.9 97.7,286.9 98.8,286.9 99.8,286.9 100.8,287.0 101.8,287.0 102.8,287.0 103.8,287.0 104.8,287.0 105.8,287.0 106.9,287.0 107.9,287.0 108.9,287.0 109.9,287.0 110.9,287.0 111.9,287.0 112.9,287.0 113.9,287.1 114.9,287.1 116.0,287.1 117.0,287.1 118.0,287.1 119.0,287.1 120.0,287.1 121.0,287.1 122.0,287.1 123.0,287.1 124.1,287.2 125.1,287.2 126.1,287.2 127.1,287.2 128.1,287.2 129.1,287.2 130.1,287.2 131.1,287.2 132.1,287.2 133.2,287.3 134.2,287.3 135.2,287.3 136.2,287.3 137.2,287.3 138.2,287.3 139.2,287.3 140.2,287.4 141.3,287.4 142.3,287.4 143.3,287.4 144.3,287.4 145.3,287.4 146.3,287.5 147.3,287.5 148.3,287.5 149.4,287.5 150.4,287.5 151.4,287.5 152.4,287.6 153.4,287.6 154.4,287.6 155.4,287.6 156.4,287.6 157.4,287.7 158.5,287.7 159.5,287.7 160.5,287.7 161.5,287.8 162.5,287.8 163.5,287.8 164.5,287.8 165.5,287.9 166.6,287.9 167.6,287.9 168.6,287.9 169.6,288.0 170.6,288.0 171.6,288.0 172.6,288.1 173.6,288.1 174.7,288.1 175.7,288.2 176.7,288.2 177.7,288.2 178.7,288.3 179.7,288.3 180.7,288.3 181.7,288.4 182.7,288.4 183.8,288.4 184.8,288.5 185.8,288.5 186.8,288.6 187.8,288.6 188.8,288.7 189.8,288.7 190.8,288.8 191.9,288.8 192.9,288.9 193.9,288.9 194.9,289.0 195.9,289.0 196.9,289.1 197.9,289.1 198.9,289.2 199.9,289.3 201.0,289.3 202.0,289.4 203.0,289.5 204.0,289.5 205.0,289.6 206.0,289.7 207.0,289.8 208.0,289.8 209.1,289.9 210.1,290.0 211.1,290.1 212.1,290.2 213.1,290.3 214.1,290.4 215.1,290.5 216.1,290.6 217.2,290.7 218.2,290.8 219.2,290.9 220.2,291.1 221.2,291.2 222.2,291.3 223.2,291.5 224.2,291.6 225.2,291.8 226.3,291.9 227.3,292.1 228.3,292.2 229.3,292.4 230.3,292.6 231.3,292.8 232.3,293.0 233.3,293.2 234.4,293.4 235.4,293.6 236.4,293.8 237.4,294.1 238.4,294.3 239.4,294.6 240.4,294.8 241.4,295.1 242.5,295.4 243.5,295.7 244.5,296.0 245.5,296.4 246.5,296.7 247.5,297.1 248.5,297.5 249.5,297.8 250.5,298.3 251.6,298.7 252.6,299.1 253.6,299.6 254.6,300.1 255.6,300.6 256.6,301.1 257.6,301.7 258.6,302.2 259.7,302.8 260.7,303.5 261.7,304.1 262.7,304.8 263.7,305.5 264.7,306.2 265.7,307.0 266.7,307.8 267.7,308.7 268.8,309.5 269.8,310.4 270.8,311.4 271.8,312.4 272.8,313.4 273.8,314.4 274.8,315.5 275.8,316.7 276.9,317.9 277.9,319.1 278.9,320.4 279.9,321.7 280.9,323.0 281.9,324.5 282.9,325.9 283.9,327.4 285.0,329.0 286.0,330.6 287.0,332.2 288.0,334.0 289.0,335.7 290.0,337.5 291.0,339.3 292.0,341.2 293.0,343.2 294.1,345.1 295.1,347.2 296.1,349.2 297.1,351.3 298.1,353.4 299.1,355.6 300.1,357.8 301.1,360.0 302.2,362.3 303.2,364.5 304.2,366.8 305.2,369.1 306.2,371.4 307.2,373.7 308.2,376.1 309.2,378.4 310.3,380.7 311.3,383.0 312.3,385.3 313.3,387.6 314.3,389.9 315.3,392.1 316.3,394.4 317.3,396.6 318.3,398.8 319.4,400.9 320.4,403.0 321.4,405.1 322.4,407.2 323.4,409.2 324.4,411.2 325.4,413.1 326.4,415.0 327.5,416.9 328.5,418.7 329.5,420.5 330.5,422.2 331.5,423.9 332.5,425.6 333.5,427.2 334.5,428.8 335.5,430.3 336.6,431.8 337.6,433.3 338.6,434.7 339.6,436.1 340.6,437.4 341.6,438.7 342.6,440.0 343.6,441.2 344.7,442.4 345.7,443.6 346.7,444.7 347.7,445.8 348.7,446.9 349.7,447.9 350.7,448.9 351.7,449.9 352.8,450.9 353.8,451.8 354.8,452.7 355.8,453.6 356.8,454.5 357.8,455.3 358.8,456.1 359.8,456.9 360.8,457.6 361.9,458.4 362.9,459.1 363.9,459.8 364.9,460.5 365.9,461.2 366.9,461.8 367.9,462.5 368.9,463.1 370.0,463.7 371.0,464.3 372.0,464.8 373.0,465.4 374.0,465.9 375.0,466.5 376.0,467.0 377.0,467.5 378.1,468.0 379.1,468.4 380.1,468.9 381.1,469.4 382.1,469.8 383.1,470.2 384.1,470.7 385.1,471.1 386.1,471.5 387.2,471.9 388.2,472.3 389.2,472.6 390.2,473.0 391.2,473.4 392.2,473.7 393.2,474.0 394.2,474.4 395.3,474.7 396.3,475.0 397.3,475.3 398.3,475.6 399.3,475.9 400.3,476.2 401.3,476.5 402.3,476.8 403.3,477.1 404.4,477.3 405.4,477.6 406.4,477.9 407.4,478.1 408.4,478.4 409.4,478.6 410.4,478.8 411.4,479.1 412.5,479.3 413.5,479.5 414.5,479.7 415.5,479.9 416.5,480.1 417.5,480.3 418.5,480.5 419.5,480.7 420.6,480.9 421.6,481.1 422.6,481.3 423.6,481.5 424.6,481.7 425.6,481.8 426.6,482.0 427.6,482.2 428.6,482.3 429.7,482.5 430.7,482.6 431.7,482.8 432.7,482.9 433.7,483.1 434.7,483.2 435.7,483.4 436.7,483.5 437.8,483.6 438.8,483.8 439.8,483.9 440.8,484.0 441.8,484.2 442.8,484.3 443.8,484.4 444.8,484.5 445.9,484.6 446.9,484.7 447.9,484.9 448.9,485.0 449.9,485.1 450.9,485.2 451.9,485.3 452.9,485.4 453.9,485.5 455.0,485.6 456.0,485.7 457.0,485.8 458.0,485.8 459.0,485.9 460.0,486.0 461.0,486.1 462.0,486.2 463.1,486.3 464.1,486.4 465.1,486.4 466.1,486.5 467.1,486.6 468.1,486.7 469.1,486.7 470.1,486.8 471.1,486.9 472.2,487.0 473.2,487.0 474.2,487.1 475.2,487.2 476.2,487.2 477.2,487.3 478.2,487.3 479.2,487.4 480.3,487.5 481.3,487.5 482.3,487.6 483.3,487.6 484.3,487.7 485.3,487.7 486.3,487.8 487.3,487.8 488.4,487.9 489.4,487.9 490.4,488.0 491.4,488.0 492.4,488.1 493.4,488.1 494.4,488.2 495.4,488.2 496.4,488.3 497.5,488.3 498.5,488.4 499.5,488.4 500.5,488.4 501.5,488.5 502.5,488.5 503.5,488.5 504.5,488.6 505.6,488.6 506.6,488.7 507.6,488.7 508.6,488.7 509.6,488.8 510.6,488.8 511.6,488.8 512.6,488.9 513.6,488.9 514.7,488.9 515.7,489.0 516.7,489.0 517.7,489.0 518.7,489.0 519.7,489.1 520.7,489.1 521.7,489.1 522.8,489.1 523.8,489.2 524.8,489.2 525.8,489.2 526.8,489.2 527.8,489.3 528.8,489.3 529.8,489.3 530.9,489.3 531.9,489.4 532.9,489.4 533.9,489.4 534.9,489.4 535.9,489.4 536.9,489.5 537.9,489.5 538.9,489.5 540.0,489.5 541.0,489.5 542.0,489.6 543.0,489.6 544.0,489.6 545.0,489.6 546.0,489.6 547.0,489.6 548.1,489.7 549.1,489.7 550.1,489.7 551.1,489.7 552.1,489.7 553.1,489.7 554.1,489.8 555.1,489.8 556.2,489.8 557.2,489.8 558.2,489.8 559.2,489.8 560.2,489.8 561.2,489.9 562.2,489.9 563.2,489.9 564.2,489.9 565.3,489.9 566.3,489.9 567.3,489.9 568.3,489.9 569.3,489.9 570.3,490.0 571.3,490.0 572.3,490.0 573.4,490.0 574.4,490.0 575.4,490.0 576.4,490.0 577.4,490.0 578.4,490.0 579.4,490.0 580.4,490.1 581.4,490.1 582.5,490.1 583.5,490.1 584.5,490.1 585.5,490.1 586.5,490.1 587.5,490.1 588.5,490.1 589.5,490.1 590.6,490.1 591.6,490.1 592.6,490.1 593.6,490.2 594.6,490.2 595.6,490.2 596.6,490.2 597.6,490.2 598.7,490.2 599.7,490.2 600.7,490.2 601.7,490.2 602.7,490.2 603.7,490.2 604.7,490.2 605.7,490.2 606.7,490.2 607.8,490.2 608.8,490.2 609.8,490.2 610.8,490.2 611.8,490.3 612.8,490.3 613.8,490.3 614.8,490.3 615.9,490.3 616.9,490.3 617.9,490.3 618.9,490.3 619.9,490.3 620.9,490.3 621.9,490.3 622.9,490.3 624.0,490.3 625.0,490.3 626.0,490.3 627.0,490.3 628.0,490.3 629.0,490.3 630.0,490.3 631.0,490.3 632.0,490.3 633.1,490.3 634.1,490.3 635.1,490.3 636.1,490.3 637.1,490.3 638.1,490.4 639.1,490.4 640.1,490.4 641.2,490.4 642.2,490.4 643.2,490.4 644.2,490.4 645.2,490.4 646.2,490.4 647.2,490.4 648.2,490.4 649.2,490.4 650.3,490.4 651.3,490.4 652.3,490.4 653.3,490.4 654.3,490.4 655.3,490.4 656.3,490.4 657.3,490.4 658.4,490.4 659.4,490.4 660.4,490.4 661.4,490.4 662.4,490.4 663.4,490.4 664.4,490.4 665.4,490.4 666.5,490.4 667.5,490.4 668.5,490.4 669.5,490.4 670.5,490.4"/>
<polyline clip-path="url(#c2)" fill="none" stroke="#EDB120" stroke-width="1.25" stroke-opacity="0.9" stroke-linejoin="round" points="64.3,286.6 65.4,286.6 66.4,286.6 67.4,286.6 68.4,286.6 69.4,286.6 70.4,286.6 71.4,286.7 72.4,286.7 73.5,286.7 74.5,286.7 75.5,286.7 76.5,286.7 77.5,286.7 78.5,286.7 79.5,286.7 80.5,286.7 81.6,286.7 82.6,286.7 83.6,286.7 84.6,286.7 85.6,286.7 86.6,286.7 87.6,286.7 88.6,286.7 89.6,286.7 90.7,286.7 91.7,286.7 92.7,286.7 93.7,286.7 94.7,286.7 95.7,286.7 96.7,286.7 97.7,286.7 98.8,286.7 99.8,286.7 100.8,286.7 101.8,286.7 102.8,286.7 103.8,286.7 104.8,286.7 105.8,286.7 106.9,286.7 107.9,286.7 108.9,286.7 109.9,286.7 110.9,286.7 111.9,286.7 112.9,286.7 113.9,286.7 114.9,286.7 116.0,286.7 117.0,286.7 118.0,286.7 119.0,286.7 120.0,286.7 121.0,286.7 122.0,286.7 123.0,286.7 124.1,286.7 125.1,286.7 126.1,286.7 127.1,286.7 128.1,286.7 129.1,286.8 130.1,286.8 131.1,286.8 132.1,286.8 133.2,286.8 134.2,286.8 135.2,286.8 136.2,286.8 137.2,286.8 138.2,286.8 139.2,286.8 140.2,286.8 141.3,286.8 142.3,286.8 143.3,286.8 144.3,286.8 145.3,286.8 146.3,286.8 147.3,286.8 148.3,286.8 149.4,286.8 150.4,286.8 151.4,286.8 152.4,286.8 153.4,286.8 154.4,286.8 155.4,286.9 156.4,286.9 157.4,286.9 158.5,286.9 159.5,286.9 160.5,286.9 161.5,286.9 162.5,286.9 163.5,286.9 164.5,286.9 165.5,286.9 166.6,286.9 167.6,286.9 168.6,286.9 169.6,286.9 170.6,286.9 171.6,286.9 172.6,287.0 173.6,287.0 174.7,287.0 175.7,287.0 176.7,287.0 177.7,287.0 178.7,287.0 179.7,287.0 180.7,287.0 181.7,287.0 182.7,287.0 183.8,287.0 184.8,287.1 185.8,287.1 186.8,287.1 187.8,287.1 188.8,287.1 189.8,287.1 190.8,287.1 191.9,287.1 192.9,287.1 193.9,287.2 194.9,287.2 195.9,287.2 196.9,287.2 197.9,287.2 198.9,287.2 199.9,287.2 201.0,287.2 202.0,287.3 203.0,287.3 204.0,287.3 205.0,287.3 206.0,287.3 207.0,287.3 208.0,287.4 209.1,287.4 210.1,287.4 211.1,287.4 212.1,287.4 213.1,287.4 214.1,287.5 215.1,287.5 216.1,287.5 217.2,287.5 218.2,287.6 219.2,287.6 220.2,287.6 221.2,287.6 222.2,287.7 223.2,287.7 224.2,287.7 225.2,287.7 226.3,287.8 227.3,287.8 228.3,287.8 229.3,287.9 230.3,287.9 231.3,287.9 232.3,288.0 233.3,288.0 234.4,288.0 235.4,288.1 236.4,288.1 237.4,288.2 238.4,288.2 239.4,288.3 240.4,288.3 241.4,288.4 242.5,288.4 243.5,288.5 244.5,288.5 245.5,288.6 246.5,288.7 247.5,288.7 248.5,288.8 249.5,288.9 250.5,288.9 251.6,289.0 252.6,289.1 253.6,289.2 254.6,289.3 255.6,289.4 256.6,289.5 257.6,289.6 258.6,289.7 259.7,289.8 260.7,289.9 261.7,290.0 262.7,290.1 263.7,290.3 264.7,290.4 265.7,290.5 266.7,290.7 267.7,290.8 268.8,291.0 269.8,291.2 270.8,291.4 271.8,291.5 272.8,291.7 273.8,291.9 274.8,292.2 275.8,292.4 276.9,292.6 277.9,292.9 278.9,293.1 279.9,293.4 280.9,293.7 281.9,294.0 282.9,294.3 283.9,294.6 285.0,295.0 286.0,295.3 287.0,295.7 288.0,296.1 289.0,296.5 290.0,296.9 291.0,297.4 292.0,297.9 293.0,298.4 294.1,298.9 295.1,299.4 296.1,300.0 297.1,300.6 298.1,301.2 299.1,301.9 300.1,302.5 301.1,303.2 302.2,304.0 303.2,304.8 304.2,305.6 305.2,306.4 306.2,307.3 307.2,308.2 308.2,309.2 309.2,310.2 310.3,311.2 311.3,312.3 312.3,313.4 313.3,314.6 314.3,315.8 315.3,317.0 316.3,318.3 317.3,319.7 318.3,321.1 319.4,322.5 320.4,324.0 321.4,325.5 322.4,327.1 323.4,328.8 324.4,330.5 325.4,332.2 326.4,334.0 327.5,335.9 328.5,337.7 329.5,339.7 330.5,341.6 331.5,343.7 332.5,345.7 333.5,347.8 334.5,349.9 335.5,352.1 336.6,354.3 337.6,356.5 338.6,358.8 339.6,361.1 340.6,363.4 341.6,365.7 342.6,368.0 343.6,370.3 344.7,372.7 345.7,375.0 346.7,377.4 347.7,379.7 348.7,382.0 349.7,384.3 350.7,386.6 351.7,388.9 352.8,391.2 353.8,393.4 354.8,395.6 355.8,397.8 356.8,399.9 357.8,402.1 358.8,404.2 359.8,406.2 360.8,408.2 361.9,410.2 362.9,412.1 363.9,414.0 364.9,415.9 365.9,417.7 366.9,419.5 367.9,421.2 368.9,422.9 370.0,424.5 371.0,426.2 372.0,427.7 373.0,429.3 374.0,430.7 375.0,432.2 376.0,433.6 377.0,435.0 378.1,436.3 379.1,437.6 380.1,438.9 381.1,440.1 382.1,441.3 383.1,442.5 384.1,443.6 385.1,444.7 386.1,445.8 387.2,446.9 388.2,447.9 389.2,448.9 390.2,449.8 391.2,450.8 392.2,451.7 393.2,452.6 394.2,453.4 395.3,454.3 396.3,455.1 397.3,455.9 398.3,456.7 399.3,457.4 400.3,458.1 401.3,458.9 402.3,459.6 403.3,460.2 404.4,460.9 405.4,461.5 406.4,462.2 407.4,462.8 408.4,463.4 409.4,464.0 410.4,464.5 411.4,465.1 412.5,465.6 413.5,466.1 414.5,466.7 415.5,467.2 416.5,467.6 417.5,468.1 418.5,468.6 419.5,469.0 420.6,469.5 421.6,469.9 422.6,470.3 423.6,470.8 424.6,471.2 425.6,471.6 426.6,471.9 427.6,472.3 428.6,472.7 429.7,473.0 430.7,473.4 431.7,473.7 432.7,474.1 433.7,474.4 434.7,474.7 435.7,475.1 436.7,475.4 437.8,475.7 438.8,476.0 439.8,476.2 440.8,476.5 441.8,476.8 442.8,477.1 443.8,477.3 444.8,477.6 445.9,477.9 446.9,478.1 447.9,478.4 448.9,478.6 449.9,478.8 450.9,479.1 451.9,479.3 452.9,479.5 453.9,479.7 455.0,479.9 456.0,480.1 457.0,480.3 458.0,480.5 459.0,480.7 460.0,480.9 461.0,481.1 462.0,481.3 463.1,481.5 464.1,481.6 465.1,481.8 466.1,482.0 467.1,482.1 468.1,482.3 469.1,482.5 470.1,482.6 471.1,482.8 472.2,482.9 473.2,483.1 474.2,483.2 475.2,483.3 476.2,483.5 477.2,483.6 478.2,483.8 479.2,483.9 480.3,484.0 481.3,484.1 482.3,484.3 483.3,484.4 484.3,484.5 485.3,484.6 486.3,484.7 487.3,484.8 488.4,484.9 489.4,485.0 490.4,485.2 491.4,485.3 492.4,485.4 493.4,485.5 494.4,485.6 495.4,485.6 496.4,485.7 497.5,485.8 498.5,485.9 499.5,486.0 500.5,486.1 501.5,486.2 502.5,486.3 503.5,486.3 504.5,486.4 505.6,486.5 506.6,486.6 507.6,486.7 508.6,486.7 509.6,486.8 510.6,486.9 511.6,486.9 512.6,487.0 513.6,487.1 514.7,487.1 515.7,487.2 516.7,487.3 517.7,487.3 518.7,487.4 519.7,487.4 520.7,487.5 521.7,487.6 522.8,487.6 523.8,487.7 524.8,487.7 525.8,487.8 526.8,487.8 527.8,487.9 528.8,487.9 529.8,488.0 530.9,488.0 531.9,488.1 532.9,488.1 533.9,488.2 534.9,488.2 535.9,488.3 536.9,488.3 537.9,488.3 538.9,488.4 540.0,488.4 541.0,488.5 542.0,488.5 543.0,488.5 544.0,488.6 545.0,488.6 546.0,488.7 547.0,488.7 548.1,488.7 549.1,488.8 550.1,488.8 551.1,488.8 552.1,488.9 553.1,488.9 554.1,488.9 555.1,488.9 556.2,489.0 557.2,489.0 558.2,489.0 559.2,489.1 560.2,489.1 561.2,489.1 562.2,489.1 563.2,489.2 564.2,489.2 565.3,489.2 566.3,489.2 567.3,489.3 568.3,489.3 569.3,489.3 570.3,489.3 571.3,489.4 572.3,489.4 573.4,489.4 574.4,489.4 575.4,489.4 576.4,489.5 577.4,489.5 578.4,489.5 579.4,489.5 580.4,489.5 581.4,489.6 582.5,489.6 583.5,489.6 584.5,489.6 585.5,489.6 586.5,489.6 587.5,489.7 588.5,489.7 589.5,489.7 590.6,489.7 591.6,489.7 592.6,489.7 593.6,489.8 594.6,489.8 595.6,489.8 596.6,489.8 597.6,489.8 598.7,489.8 599.7,489.8 600.7,489.8 601.7,489.9 602.7,489.9 603.7,489.9 604.7,489.9 605.7,489.9 606.7,489.9 607.8,489.9 608.8,489.9 609.8,490.0 610.8,490.0 611.8,490.0 612.8,490.0 613.8,490.0 614.8,490.0 615.9,490.0 616.9,490.0 617.9,490.0 618.9,490.0 619.9,490.0 620.9,490.1 621.9,490.1 622.9,490.1 624.0,490.1 625.0,490.1 626.0,490.1 627.0,490.1 628.0,490.1 629.0,490.1 630.0,490.1 631.0,490.1 632.0,490.1 633.1,490.1 634.1,490.2 635.1,490.2 636.1,490.2 637.1,490.2 638.1,490.2 639.1,490.2 640.1,490.2 641.2,490.2 642.2,490.2 643.2,490.2 644.2,490.2 645.2,490.2 646.2,490.2 647.2,490.2 648.2,490.2 649.2,490.2 650.3,490.2 651.3,490.3 652.3,490.3 653.3,490.3 654.3,490.3 655.3,490.3 656.3,490.3 657.3,490.3 658.4,490.3 659.4,490.3 660.4,490.3 661.4,490.3 662.4,490.3 663.4,490.3 664.4,490.3 665.4,490.3 666.5,490.3 667.5,490.3 668.5,490.3 669.5,490.3 670.5,490.3"/>
<polyline clip-path="url(#c2)" fill="none" stroke="#7E2F8E" stroke-width="1.25" stroke-opacity="0.9" stroke-linejoin="round" points="64.3,286.6 65.4,286.6 66.4,286.6 67.4,286.6 68.4,286.6 69.4,286.6 70.4,286.6 71.4,286.6 72.4,286.6 73.5,286.6 74.5,286.6 75.5,286.6 76.5,286.6 77.5,286.6 78.5,286.6 79.5,286.6 80.5,286.6 81.6,286.6 82.6,286.6 83.6,286.6 84.6,286.6 85.6,286.6 86.6,286.6 87.6,286.6 88.6,286.6 89.6,286.6 90.7,286.6 91.7,286.6 92.7,286.6 93.7,286.6 94.7,286.6 95.7,286.6 96.7,286.6 97.7,286.6 98.8,286.6 99.8,286.6 100.8,286.6 101.8,286.6 102.8,286.6 103.8,286.6 104.8,286.6 105.8,286.6 106.9,286.6 107.9,286.6 108.9,286.6 109.9,286.6 110.9,286.6 111.9,286.6 112.9,286.6 113.9,286.6 114.9,286.6 116.0,286.6 117.0,286.6 118.0,286.6 119.0,286.6 120.0,286.6 121.0,286.6 122.0,286.6 123.0,286.6 124.1,286.6 125.1,286.6 126.1,286.6 127.1,286.6 128.1,286.6 129.1,286.6 130.1,286.6 131.1,286.6 132.1,286.6 133.2,286.6 134.2,286.6 135.2,286.6 136.2,286.6 137.2,286.6 138.2,286.6 139.2,286.6 140.2,286.6 141.3,286.6 142.3,286.6 143.3,286.6 144.3,286.6 145.3,286.6 146.3,286.6 147.3,286.6 148.3,286.6 149.4,286.6 150.4,286.6 151.4,286.6 152.4,286.6 153.4,286.6 154.4,286.6 155.4,286.6 156.4,286.6 157.4,286.6 158.5,286.6 159.5,286.6 160.5,286.6 161.5,286.6 162.5,286.6 163.5,286.6 164.5,286.6 165.5,286.6 166.6,286.6 167.6,286.7 168.6,286.7 169.6,286.7 170.6,286.7 171.6,286.7 172.6,286.7 173.6,286.7 174.7,286.7 175.7,286.7 176.7,286.7 177.7,286.7 178.7,286.7 179.7,286.7 180.7,286.7 181.7,286.7 182.7,286.7 183.8,286.7 184.8,286.7 185.8,286.7 186.8,286.7 187.8,286.7 188.8,286.7 189.8,286.7 190.8,286.7 191.9,286.7 192.9,286.7 193.9,286.7 194.9,286.7 195.9,286.7 196.9,286.7 197.9,286.7 198.9,286.7 199.9,286.7 201.0,286.7 202.0,286.7 203.0,286.7 204.0,286.7 205.0,286.7 206.0,286.7 207.0,286.7 208.0,286.7 209.1,286.7 210.1,286.7 211.1,286.7 212.1,286.7 213.1,286.7 214.1,286.7 215.1,286.7 216.1,286.7 217.2,286.7 218.2,286.7 219.2,286.7 220.2,286.7 221.2,286.8 222.2,286.8 223.2,286.8 224.2,286.8 225.2,286.8 226.3,286.8 227.3,286.8 228.3,286.8 229.3,286.8 230.3,286.8 231.3,286.8 232.3,286.8 233.3,286.8 234.4,286.8 235.4,286.8 236.4,286.8 237.4,286.8 238.4,286.8 239.4,286.8 240.4,286.8 241.4,286.8 242.5,286.8 243.5,286.9 244.5,286.9 245.5,286.9 246.5,286.9 247.5,286.9 248.5,286.9 249.5,286.9 250.5,286.9 251.6,286.9 252.6,286.9 253.6,286.9 254.6,286.9 255.6,286.9 256.6,287.0 257.6,287.0 258.6,287.0 259.7,287.0 260.7,287.0 261.7,287.0 262.7,287.0 263.7,287.0 264.7,287.0 265.7,287.1 266.7,287.1 267.7,287.1 268.8,287.1 269.8,287.1 270.8,287.1 271.8,287.2 272.8,287.2 273.8,287.2 274.8,287.2 275.8,287.2 276.9,287.3 277.9,287.3 278.9,287.3 279.9,287.3 280.9,287.4 281.9,287.4 282.9,287.4 283.9,287.4 285.0,287.5 286.0,287.5 287.0,287.5 288.0,287.6 289.0,287.6 290.0,287.6 291.0,287.7 292.0,287.7 293.0,287.8 294.1,287.8 295.1,287.9 296.1,287.9 297.1,288.0 298.1,288.0 299.1,288.1 300.1,288.2 301.1,288.2 302.2,288.3 303.2,288.4 304.2,288.4 305.2,288.5 306.2,288.6 307.2,288.7 308.2,288.8 309.2,288.9 310.3,289.0 311.3,289.1 312.3,289.2 313.3,289.3 314.3,289.5 315.3,289.6 316.3,289.8 317.3,289.9 318.3,290.1 319.4,290.2 320.4,290.4 321.4,290.6 322.4,290.8 323.4,291.0 324.4,291.2 325.4,291.4 326.4,291.6 327.5,291.9 328.5,292.1 329.5,292.4 330.5,292.7 331.5,293.0 332.5,293.3 333.5,293.6 334.5,294.0 335.5,294.3 336.6,294.7 337.6,295.1 338.6,295.5 339.6,296.0 340.6,296.4 341.6,296.9 342.6,297.4 343.6,298.0 344.7,298.5 345.7,299.1 346.7,299.7 347.7,300.4 348.7,301.0 349.7,301.7 350.7,302.5 351.7,303.3 352.8,304.1 353.8,304.9 354.8,305.8 355.8,306.7 356.8,307.6 357.8,308.6 358.8,309.7 359.8,310.8 360.8,311.9 361.9,313.1 362.9,314.3 363.9,315.5 364.9,316.8 365.9,318.2 366.9,319.6 367.9,321.1 368.9,322.6 370.0,324.1 371.0,325.7 372.0,327.4 373.0,329.1 374.0,330.9 375.0,332.7 376.0,334.5 377.0,336.4 378.1,338.4 379.1,340.4 380.1,342.4 381.1,344.5 382.1,346.6 383.1,348.7 384.1,350.9 385.1,353.1 386.1,355.4 387.2,357.6 388.2,359.9 389.2,362.2 390.2,364.6 391.2,366.9 392.2,369.3 393.2,371.6 394.2,374.0 395.3,376.3 396.3,378.7 397.3,381.0 398.3,383.3 399.3,385.6 400.3,387.9 401.3,390.2 402.3,392.4 403.3,394.6 404.4,396.8 405.4,399.0 406.4,401.1 407.4,403.2 408.4,405.3 409.4,407.3 410.4,409.3 411.4,411.2 412.5,413.1 413.5,415.0 414.5,416.8 415.5,418.6 416.5,420.3 417.5,422.0 418.5,423.6 419.5,425.3 420.6,426.8 421.6,428.4 422.6,429.9 423.6,431.3 424.6,432.7 425.6,434.1 426.6,435.5 427.6,436.8 428.6,438.1 429.7,439.3 430.7,440.5 431.7,441.7 432.7,442.8 433.7,443.9 434.7,445.0 435.7,446.1 436.7,447.1 437.8,448.1 438.8,449.1 439.8,450.0 440.8,450.9 441.8,451.8 442.8,452.7 443.8,453.6 444.8,454.4 445.9,455.2 446.9,456.0 447.9,456.7 448.9,457.5 449.9,458.2 450.9,458.9 451.9,459.6 452.9,460.3 453.9,460.9 455.0,461.6 456.0,462.2 457.0,462.8 458.0,463.4 459.0,463.9 460.0,464.5 461.0,465.1 462.0,465.6 463.1,466.1 464.1,466.6 465.1,467.1 466.1,467.6 467.1,468.1 468.1,468.5 469.1,469.0 470.1,469.4 471.1,469.9 472.2,470.3 473.2,470.7 474.2,471.1 475.2,471.5 476.2,471.9 477.2,472.3 478.2,472.6 479.2,473.0 480.3,473.3 481.3,473.7 482.3,474.0 483.3,474.3 484.3,474.7 485.3,475.0 486.3,475.3 487.3,475.6 488.4,475.9 489.4,476.2 490.4,476.5 491.4,476.7 492.4,477.0 493.4,477.3 494.4,477.5 495.4,477.8 496.4,478.0 497.5,478.3 498.5,478.5 499.5,478.8 500.5,479.0 501.5,479.2 502.5,479.4 503.5,479.7 504.5,479.9 505.6,480.1 506.6,480.3 507.6,480.5 508.6,480.7 509.6,480.9 510.6,481.0 511.6,481.2 512.6,481.4 513.6,481.6 514.7,481.8 515.7,481.9 516.7,482.1 517.7,482.3 518.7,482.4 519.7,482.6 520.7,482.7 521.7,482.9 522.8,483.0 523.8,483.2 524.8,483.3 525.8,483.4 526.8,483.6 527.8,483.7 528.8,483.8 529.8,484.0 530.9,484.1 531.9,484.2 532.9,484.3 533.9,484.5 534.9,484.6 535.9,484.7 536.9,484.8 537.9,484.9 538.9,485.0 540.0,485.1 541.0,485.2 542.0,485.3 543.0,485.4 544.0,485.5 545.0,485.6 546.0,485.7 547.0,485.8 548.1,485.9 549.1,486.0 550.1,486.1 551.1,486.2 552.1,486.2 553.1,486.3 554.1,486.4 555.1,486.5 556.2,486.6 557.2,486.6 558.2,486.7 559.2,486.8 560.2,486.8 561.2,486.9 562.2,487.0 563.2,487.1 564.2,487.1 565.3,487.2 566.3,487.2 567.3,487.3 568.3,487.4 569.3,487.4 570.3,487.5 571.3,487.5 572.3,487.6 573.4,487.7 574.4,487.7 575.4,487.8 576.4,487.8 577.4,487.9 578.4,487.9 579.4,488.0 580.4,488.0 581.4,488.1 582.5,488.1 583.5,488.2 584.5,488.2 585.5,488.2 586.5,488.3 587.5,488.3 588.5,488.4 589.5,488.4 590.6,488.5 591.6,488.5 592.6,488.5 593.6,488.6 594.6,488.6 595.6,488.6 596.6,488.7 597.6,488.7 598.7,488.7 599.7,488.8 600.7,488.8 601.7,488.8 602.7,488.9 603.7,488.9 604.7,488.9 605.7,489.0 606.7,489.0 607.8,489.0 608.8,489.1 609.8,489.1 610.8,489.1 611.8,489.1 612.8,489.2 613.8,489.2 614.8,489.2 615.9,489.2 616.9,489.3 617.9,489.3 618.9,489.3 619.9,489.3 620.9,489.4 621.9,489.4 622.9,489.4 624.0,489.4 625.0,489.4 626.0,489.5 627.0,489.5 628.0,489.5 629.0,489.5 630.0,489.5 631.0,489.6 632.0,489.6 633.1,489.6 634.1,489.6 635.1,489.6 636.1,489.6 637.1,489.7 638.1,489.7 639.1,489.7 640.1,489.7 641.2,489.7 642.2,489.7 643.2,489.7 644.2,489.8 645.2,489.8 646.2,489.8 647.2,489.8 648.2,489.8 649.2,489.8 650.3,489.8 651.3,489.9 652.3,489.9 653.3,489.9 654.3,489.9 655.3,489.9 656.3,489.9 657.3,489.9 658.4,489.9 659.4,489.9 660.4,490.0 661.4,490.0 662.4,490.0 663.4,490.0 664.4,490.0 665.4,490.0 666.5,490.0 667.5,490.0 668.5,490.0 669.5,490.0 670.5,490.1"/>
<polyline clip-path="url(#c2)" fill="none" stroke="#77AC30" stroke-width="1.25" stroke-opacity="0.9" stroke-linejoin="round" points="64.3,286.6 65.4,286.6 66.4,286.6 67.4,286.6 68.4,286.6 69.4,286.6 70.4,286.6 71.4,286.6 72.4,286.6 73.5,286.6 74.5,286.6 75.5,286.6 76.5,286.6 77.5,286.6 78.5,286.6 79.5,286.6 80.5,286.6 81.6,286.6 82.6,286.6 83.6,286.6 84.6,286.6 85.6,286.6 86.6,286.6 87.6,286.6 88.6,286.6 89.6,286.6 90.7,286.6 91.7,286.6 92.7,286.6 93.7,286.6 94.7,286.6 95.7,286.6 96.7,286.6 97.7,286.6 98.8,286.6 99.8,286.6 100.8,286.6 101.8,286.6 102.8,286.6 103.8,286.6 104.8,286.6 105.8,286.6 106.9,286.6 107.9,286.6 108.9,286.6 109.9,286.6 110.9,286.6 111.9,286.6 112.9,286.6 113.9,286.6 114.9,286.6 116.0,286.6 117.0,286.6 118.0,286.6 119.0,286.6 120.0,286.6 121.0,286.6 122.0,286.6 123.0,286.6 124.1,286.6 125.1,286.6 126.1,286.6 127.1,286.6 128.1,286.6 129.1,286.6 130.1,286.6 131.1,286.6 132.1,286.6 133.2,286.6 134.2,286.6 135.2,286.6 136.2,286.6 137.2,286.6 138.2,286.6 139.2,286.6 140.2,286.6 141.3,286.6 142.3,286.6 143.3,286.6 144.3,286.6 145.3,286.6 146.3,286.6 147.3,286.6 148.3,286.6 149.4,286.6 150.4,286.6 151.4,286.6 152.4,286.6 153.4,286.6 154.4,286.6 155.4,286.6 156.4,286.6 157.4,286.6 158.5,286.6 159.5,286.6 160.5,286.6 161.5,286.6 162.5,286.6 163.5,286.6 164.5,286.6 165.5,286.6 166.6,286.6 167.6,286.6 168.6,286.6 169.6,286.6 170.6,286.6 171.6,286.6 172.6,286.6 173.6,286.6 174.7,286.6 175.7,286.6 176.7,286.6 177.7,286.6 178.7,286.6 179.7,286.6 180.7,286.6 181.7,286.6 182.7,286.6 183.8,286.6 184.8,286.6 185.8,286.6 186.8,286.6 187.8,286.6 188.8,286.6 189.8,286.6 190.8,286.6 191.9,286.6 192.9,286.6 193.9,286.6 194.9,286.6 195.9,286.6 196.9,286.6 197.9,286.6 198.9,286.6 199.9,286.6 201.0,286.6 202.0,286.6 203.0,286.6 204.0,286.6 205.0,286.6 206.0,286.6 207.0,286.6 208.0,286.6 209.1,286.6 210.1,286.6 211.1,286.6 212.1,286.6 213.1,286.6 214.1,286.6 215.1,286.6 216.1,286.6 217.2,286.6 218.2,286.6 219.2,286.6 220.2,286.6 221.2,286.6 222.2,286.6 223.2,286.6 224.2,286.6 225.2,286.6 226.3,286.6 227.3,286.6 228.3,286.6 229.3,286.6 230.3,286.6 231.3,286.6 232.3,286.6 233.3,286.6 234.4,286.6 235.4,286.6 236.4,286.6 237.4,286.7 238.4,286.7 239.4,286.7 240.4,286.7 241.4,286.7 242.5,286.7 243.5,286.7 244.5,286.7 245.5,286.7 246.5,286.7 247.5,286.7 248.5,286.7 249.5,286.7 250.5,286.7 251.6,286.7 252.6,286.7 253.6,286.7 254.6,286.7 255.6,286.7 256.6,286.7 257.6,286.7 258.6,286.7 259.7,286.7 260.7,286.7 261.7,286.7 262.7,286.7 263.7,286.7 264.7,286.7 265.7,286.7 266.7,286.7 267.7,286.7 268.8,286.7 269.8,286.7 270.8,286.7 271.8,286.7 272.8,286.7 273.8,286.7 274.8,286.7 275.8,286.7 276.9,286.7 277.9,286.7 278.9,286.7 279.9,286.7 280.9,286.7 281.9,286.8 282.9,286.8 283.9,286.8 285.0,286.8 286.0,286.8 287.0,286.8 288.0,286.8 289.0,286.8 290.0,286.8 291.0,286.8 292.0,286.8 293.0,286.8 294.1,286.8 295.1,286.8 296.1,286.8 297.1,286.9 298.1,286.9 299.1,286.9 300.1,286.9 301.1,286.9 302.2,286.9 303.2,286.9 304.2,286.9 305.2,286.9 306.2,286.9 307.2,287.0 308.2,287.0 309.2,287.0 310.3,287.0 311.3,287.0 312.3,287.0 313.3,287.1 314.3,287.1 315.3,287.1 316.3,287.1 317.3,287.1 318.3,287.2 319.4,287.2 320.4,287.2 321.4,287.2 322.4,287.3 323.4,287.3 324.4,287.3 325.4,287.4 326.4,287.4 327.5,287.4 328.5,287.5 329.5,287.5 330.5,287.6 331.5,287.6 332.5,287.6 333.5,287.7 334.5,287.7 335.5,287.8 336.6,287.9 337.6,287.9 338.6,288.0 339.6,288.1 340.6,288.1 341.6,288.2 342.6,288.3 343.6,288.4 344.7,288.5 345.7,288.6 346.7,288.6 347.7,288.8 348.7,288.9 349.7,289.0 350.7,289.1 351.7,289.2 352.8,289.4 353.8,289.5 354.8,289.7 355.8,289.8 356.8,290.0 357.8,290.1 358.8,290.3 359.8,290.5 360.8,290.7 361.9,290.9 362.9,291.2 363.9,291.4 364.9,291.7 365.9,291.9 366.9,292.2 367.9,292.5 368.9,292.8 370.0,293.1 371.0,293.5 372.0,293.8 373.0,294.2 374.0,294.6 375.0,295.0 376.0,295.4 377.0,295.9 378.1,296.4 379.1,296.9 380.1,297.4 381.1,297.9 382.1,298.5 383.1,299.1 384.1,299.8 385.1,300.4 386.1,301.1 387.2,301.9 388.2,302.6 389.2,303.4 390.2,304.3 391.2,305.1 392.2,306.0 393.2,307.0 394.2,308.0 395.3,309.0 396.3,310.1 397.3,311.2 398.3,312.4 399.3,313.6 400.3,314.8 401.3,316.1 402.3,317.5 403.3,318.9 404.4,320.3 405.4,321.8 406.4,323.4 407.4,325.0 408.4,326.7 409.4,328.4 410.4,330.1 411.4,331.9 412.5,333.8 413.5,335.7 414.5,337.6 415.5,339.6 416.5,341.6 417.5,343.7 418.5,345.8 419.5,348.0 420.6,350.2 421.6,352.4 422.6,354.6 423.6,356.9 424.6,359.2 425.6,361.5 426.6,363.8 427.6,366.2 428.6,368.5 429.7,370.9 430.7,373.2 431.7,375.6 432.7,377.9 433.7,380.3 434.7,382.6 435.7,384.9 436.7,387.2 437.8,389.5 438.8,391.7 439.8,393.9 440.8,396.1 441.8,398.3 442.8,400.4 443.8,402.5 444.8,404.6 445.9,406.6 446.9,408.6 447.9,410.6 448.9,412.5 449.9,414.3 450.9,416.2 451.9,418.0 452.9,419.7 453.9,421.4 455.0,423.1 456.0,424.7 457.0,426.3 458.0,427.8 459.0,429.3 460.0,430.8 461.0,432.2 462.0,433.6 463.1,435.0 464.1,436.3 465.1,437.6 466.1,438.8 467.1,440.1 468.1,441.2 469.1,442.4 470.1,443.5 471.1,444.6 472.2,445.7 473.2,446.7 474.2,447.7 475.2,448.7 476.2,449.6 477.2,450.6 478.2,451.5 479.2,452.3 480.3,453.2 481.3,454.0 482.3,454.8 483.3,455.6 484.3,456.4 485.3,457.1 486.3,457.9 487.3,458.6 488.4,459.3 489.4,459.9 490.4,460.6 491.4,461.2 492.4,461.9 493.4,462.5 494.4,463.1 495.4,463.7 496.4,464.2 497.5,464.8 498.5,465.3 499.5,465.8 500.5,466.4 501.5,466.9 502.5,467.4 503.5,467.8 504.5,468.3 505.6,468.8 506.6,469.2 507.6,469.6 508.6,470.1 509.6,470.5 510.6,470.9 511.6,471.3 512.6,471.7 513.6,472.1 514.7,472.4 515.7,472.8 516.7,473.2 517.7,473.5 518.7,473.8 519.7,474.2 520.7,474.5 521.7,474.8 522.8,475.1 523.8,475.4 524.8,475.7 525.8,476.0 526.8,476.3 527.8,476.6 528.8,476.9 529.8,477.1 530.9,477.4 531.9,477.7 532.9,477.9 533.9,478.2 534.9,478.4 535.9,478.6 536.9,478.9 537.9,479.1 538.9,479.3 540.0,479.5 541.0,479.7 542.0,480.0 543.0,480.2 544.0,480.4 545.0,480.6 546.0,480.8 547.0,480.9 548.1,481.1 549.1,481.3 550.1,481.5 551.1,481.7 552.1,481.8 553.1,482.0 554.1,482.2 555.1,482.3 556.2,482.5 557.2,482.6 558.2,482.8 559.2,482.9 560.2,483.1 561.2,483.2 562.2,483.4 563.2,483.5 564.2,483.6 565.3,483.8 566.3,483.9 567.3,484.0 568.3,484.1 569.3,484.3 570.3,484.4 571.3,484.5 572.3,484.6 573.4,484.7 574.4,484.8 575.4,485.0 576.4,485.1 577.4,485.2 578.4,485.3 579.4,485.4 580.4,485.5 581.4,485.6 582.5,485.7 583.5,485.7 584.5,485.8 585.5,485.9 586.5,486.0 587.5,486.1 588.5,486.2 589.5,486.3 590.6,486.3 591.6,486.4 592.6,486.5 593.6,486.6 594.6,486.7 595.6,486.7 596.6,486.8 597.6,486.9 598.7,486.9 599.7,487.0 600.7,487.1 601.7,487.1 602.7,487.2 603.7,487.3 604.7,487.3 605.7,487.4 606.7,487.5 607.8,487.5 608.8,487.6 609.8,487.6 610.8,487.7 611.8,487.7 612.8,487.8 613.8,487.8 614.8,487.9 615.9,487.9 616.9,488.0 617.9,488.0 618.9,488.1 619.9,488.1 620.9,488.2 621.9,488.2 622.9,488.3 624.0,488.3 625.0,488.3 626.0,488.4 627.0,488.4 628.0,488.5 629.0,488.5 630.0,488.5 631.0,488.6 632.0,488.6 633.1,488.7 634.1,488.7 635.1,488.7 636.1,488.8 637.1,488.8 638.1,488.8 639.1,488.9 640.1,488.9 641.2,488.9 642.2,488.9 643.2,489.0 644.2,489.0 645.2,489.0 646.2,489.1 647.2,489.1 648.2,489.1 649.2,489.1 650.3,489.2 651.3,489.2 652.3,489.2 653.3,489.2 654.3,489.3 655.3,489.3 656.3,489.3 657.3,489.3 658.4,489.4 659.4,489.4 660.4,489.4 661.4,489.4 662.4,489.4 663.4,489.5 664.4,489.5 665.4,489.5 666.5,489.5 667.5,489.5 668.5,489.6 669.5,489.6 670.5,489.6"/>
<rect x="70.4" y="131.6" width="383.0" height="123.30000000000001" fill="#ffffff" stroke="#262626" stroke-width="1"/>
<line x1="75.9" y1="146.1" x2="133.3" y2="146.1" stroke="#0072BD" stroke-width="1.3" stroke-opacity="0.88"/>
<path transform="translate(138,152.9)" d="M2.2,-7.3 C0.6,-5.8 -0.6,-0.15 2.6,-0.15 C4.2,-0.15 5.1,-2.6 5.3,-4.4 C4.9,-2.0 5.4,-0.15 7.0,-0.15 C9.2,-0.15 10.4,-4.6 9.3,-6.9 C9.0,-7.5 8.3,-7.4 8.3,-6.8" fill="none" stroke="#111" stroke-width="1.05" stroke-linecap="round" stroke-linejoin="round"/>
<rect x="148.9" y="154.35" width="10" height="1.4" fill="#000"/>
<text transform="translate(149.1,152.9) scale(1,1.04)" font-size="17.38" fill="#000" text-anchor="start" xml:space="preserve">  n = 50 rad/s (Kp=0.06, Ki=2.75)</text>
<line x1="75.9" y1="169.7" x2="133.3" y2="169.7" stroke="#D95319" stroke-width="1.3" stroke-opacity="0.88"/>
<path transform="translate(138,176.5)" d="M2.2,-7.3 C0.6,-5.8 -0.6,-0.15 2.6,-0.15 C4.2,-0.15 5.1,-2.6 5.3,-4.4 C4.9,-2.0 5.4,-0.15 7.0,-0.15 C9.2,-0.15 10.4,-4.6 9.3,-6.9 C9.0,-7.5 8.3,-7.4 8.3,-6.8" fill="none" stroke="#111" stroke-width="1.05" stroke-linecap="round" stroke-linejoin="round"/>
<rect x="148.9" y="177.95" width="10" height="1.4" fill="#000"/>
<text transform="translate(149.1,176.5) scale(1,1.04)" font-size="17.38" fill="#000" text-anchor="start" xml:space="preserve">  n = 100 rad/s (Kp=0.14, Ki=11.00)</text>
<line x1="75.9" y1="193.3" x2="133.3" y2="193.3" stroke="#EDB120" stroke-width="1.3" stroke-opacity="0.88"/>
<path transform="translate(138,200.1)" d="M2.2,-7.3 C0.6,-5.8 -0.6,-0.15 2.6,-0.15 C4.2,-0.15 5.1,-2.6 5.3,-4.4 C4.9,-2.0 5.4,-0.15 7.0,-0.15 C9.2,-0.15 10.4,-4.6 9.3,-6.9 C9.0,-7.5 8.3,-7.4 8.3,-6.8" fill="none" stroke="#111" stroke-width="1.05" stroke-linecap="round" stroke-linejoin="round"/>
<rect x="148.9" y="201.55" width="10" height="1.4" fill="#000"/>
<text transform="translate(149.1,200.1) scale(1,1.04)" font-size="17.38" fill="#000" text-anchor="start" xml:space="preserve">  n = 200 rad/s (Kp=0.30, Ki=44.00)</text>
<line x1="75.9" y1="216.9" x2="133.3" y2="216.9" stroke="#7E2F8E" stroke-width="1.3" stroke-opacity="0.88"/>
<path transform="translate(138,223.7)" d="M2.2,-7.3 C0.6,-5.8 -0.6,-0.15 2.6,-0.15 C4.2,-0.15 5.1,-2.6 5.3,-4.4 C4.9,-2.0 5.4,-0.15 7.0,-0.15 C9.2,-0.15 10.4,-4.6 9.3,-6.9 C9.0,-7.5 8.3,-7.4 8.3,-6.8" fill="none" stroke="#111" stroke-width="1.05" stroke-linecap="round" stroke-linejoin="round"/>
<rect x="148.9" y="225.15" width="10" height="1.4" fill="#000"/>
<text transform="translate(149.1,223.7) scale(1,1.04)" font-size="17.38" fill="#000" text-anchor="start" xml:space="preserve">  n = 500 rad/s (Kp=0.76, Ki=275.00)</text>
<line x1="75.9" y1="240.5" x2="133.3" y2="240.5" stroke="#77AC30" stroke-width="1.3" stroke-opacity="0.88"/>
<path transform="translate(138,247.3)" d="M2.2,-7.3 C0.6,-5.8 -0.6,-0.15 2.6,-0.15 C4.2,-0.15 5.1,-2.6 5.3,-4.4 C4.9,-2.0 5.4,-0.15 7.0,-0.15 C9.2,-0.15 10.4,-4.6 9.3,-6.9 C9.0,-7.5 8.3,-7.4 8.3,-6.8" fill="none" stroke="#111" stroke-width="1.05" stroke-linecap="round" stroke-linejoin="round"/>
<rect x="148.9" y="248.75" width="10" height="1.4" fill="#000"/>
<text transform="translate(149.1,247.3) scale(1,1.04)" font-size="17.38" fill="#000" text-anchor="start" xml:space="preserve">  n = 1000 rad/s (Kp=1.54, Ki=1100.00)</text>
<text transform="translate(55.5,45.2) scale(1,1.04)" font-size="19.25" fill="#666666" text-anchor="end" >0</text>
<text transform="translate(55.5,102.6) scale(1,1.04)" font-size="19.25" fill="#666666" text-anchor="end" >-20</text>
<text transform="translate(55.5,160.0) scale(1,1.04)" font-size="19.25" fill="#666666" text-anchor="end" >-40</text>
<text transform="translate(55.5,217.4) scale(1,1.04)" font-size="19.25" fill="#666666" text-anchor="end" >-60</text>
<text transform="translate(55.5,274.8) scale(1,1.04)" font-size="19.25" fill="#666666" text-anchor="end" >-80</text>
<text transform="translate(55.5,294.2) scale(1,1.04)" font-size="19.25" fill="#666666" text-anchor="end" >0</text>
<text transform="translate(55.5,396.2) scale(1,1.04)" font-size="19.25" fill="#666666" text-anchor="end" >-45</text>
<text transform="translate(55.5,498.1) scale(1,1.04)" font-size="19.25" fill="#666666" text-anchor="end" >-90</text>
<text transform="translate(48.8,525.6) scale(1,1.04)" font-size="19.25" fill="#666666" text-anchor="start" >10<tspan font-size="14.6" dy="-8.4">0</tspan></text>
<text transform="translate(170.1,525.6) scale(1,1.04)" font-size="19.25" fill="#666666" text-anchor="start" >10<tspan font-size="14.6" dy="-8.4">1</tspan></text>
<text transform="translate(291.3,525.6) scale(1,1.04)" font-size="19.25" fill="#666666" text-anchor="start" >10<tspan font-size="14.6" dy="-8.4">2</tspan></text>
<text transform="translate(412.5,525.6) scale(1,1.04)" font-size="19.25" fill="#666666" text-anchor="start" >10<tspan font-size="14.6" dy="-8.4">3</tspan></text>
<text transform="translate(533.8,525.6) scale(1,1.04)" font-size="19.25" fill="#666666" text-anchor="start" >10<tspan font-size="14.6" dy="-8.4">4</tspan></text>
<text transform="translate(655.0,525.6) scale(1,1.04)" font-size="19.25" fill="#666666" text-anchor="start" >10<tspan font-size="14.6" dy="-8.4">5</tspan></text>
<text transform="translate(365.3,15.9) scale(1,1.04)" font-size="21.2" fill="#000" text-anchor="middle" font-weight="bold">Bode Diagram</text>
<text transform="translate(366,550.7) scale(1,1.04)" font-size="21.2" fill="#000" text-anchor="middle" xml:space="preserve">Frequency  (rad/s)</text>
<text transform="translate(16.0,149.8) rotate(-90) scale(1,1.04)" font-size="21.2" fill="#000" text-anchor="middle" >Magnitude (dB)</text>
<text transform="translate(16.0,388.4) rotate(-90) scale(1,1.04)" font-size="21.2" fill="#000" text-anchor="middle" >Phase (deg)</text>
</svg>
</body></html>
